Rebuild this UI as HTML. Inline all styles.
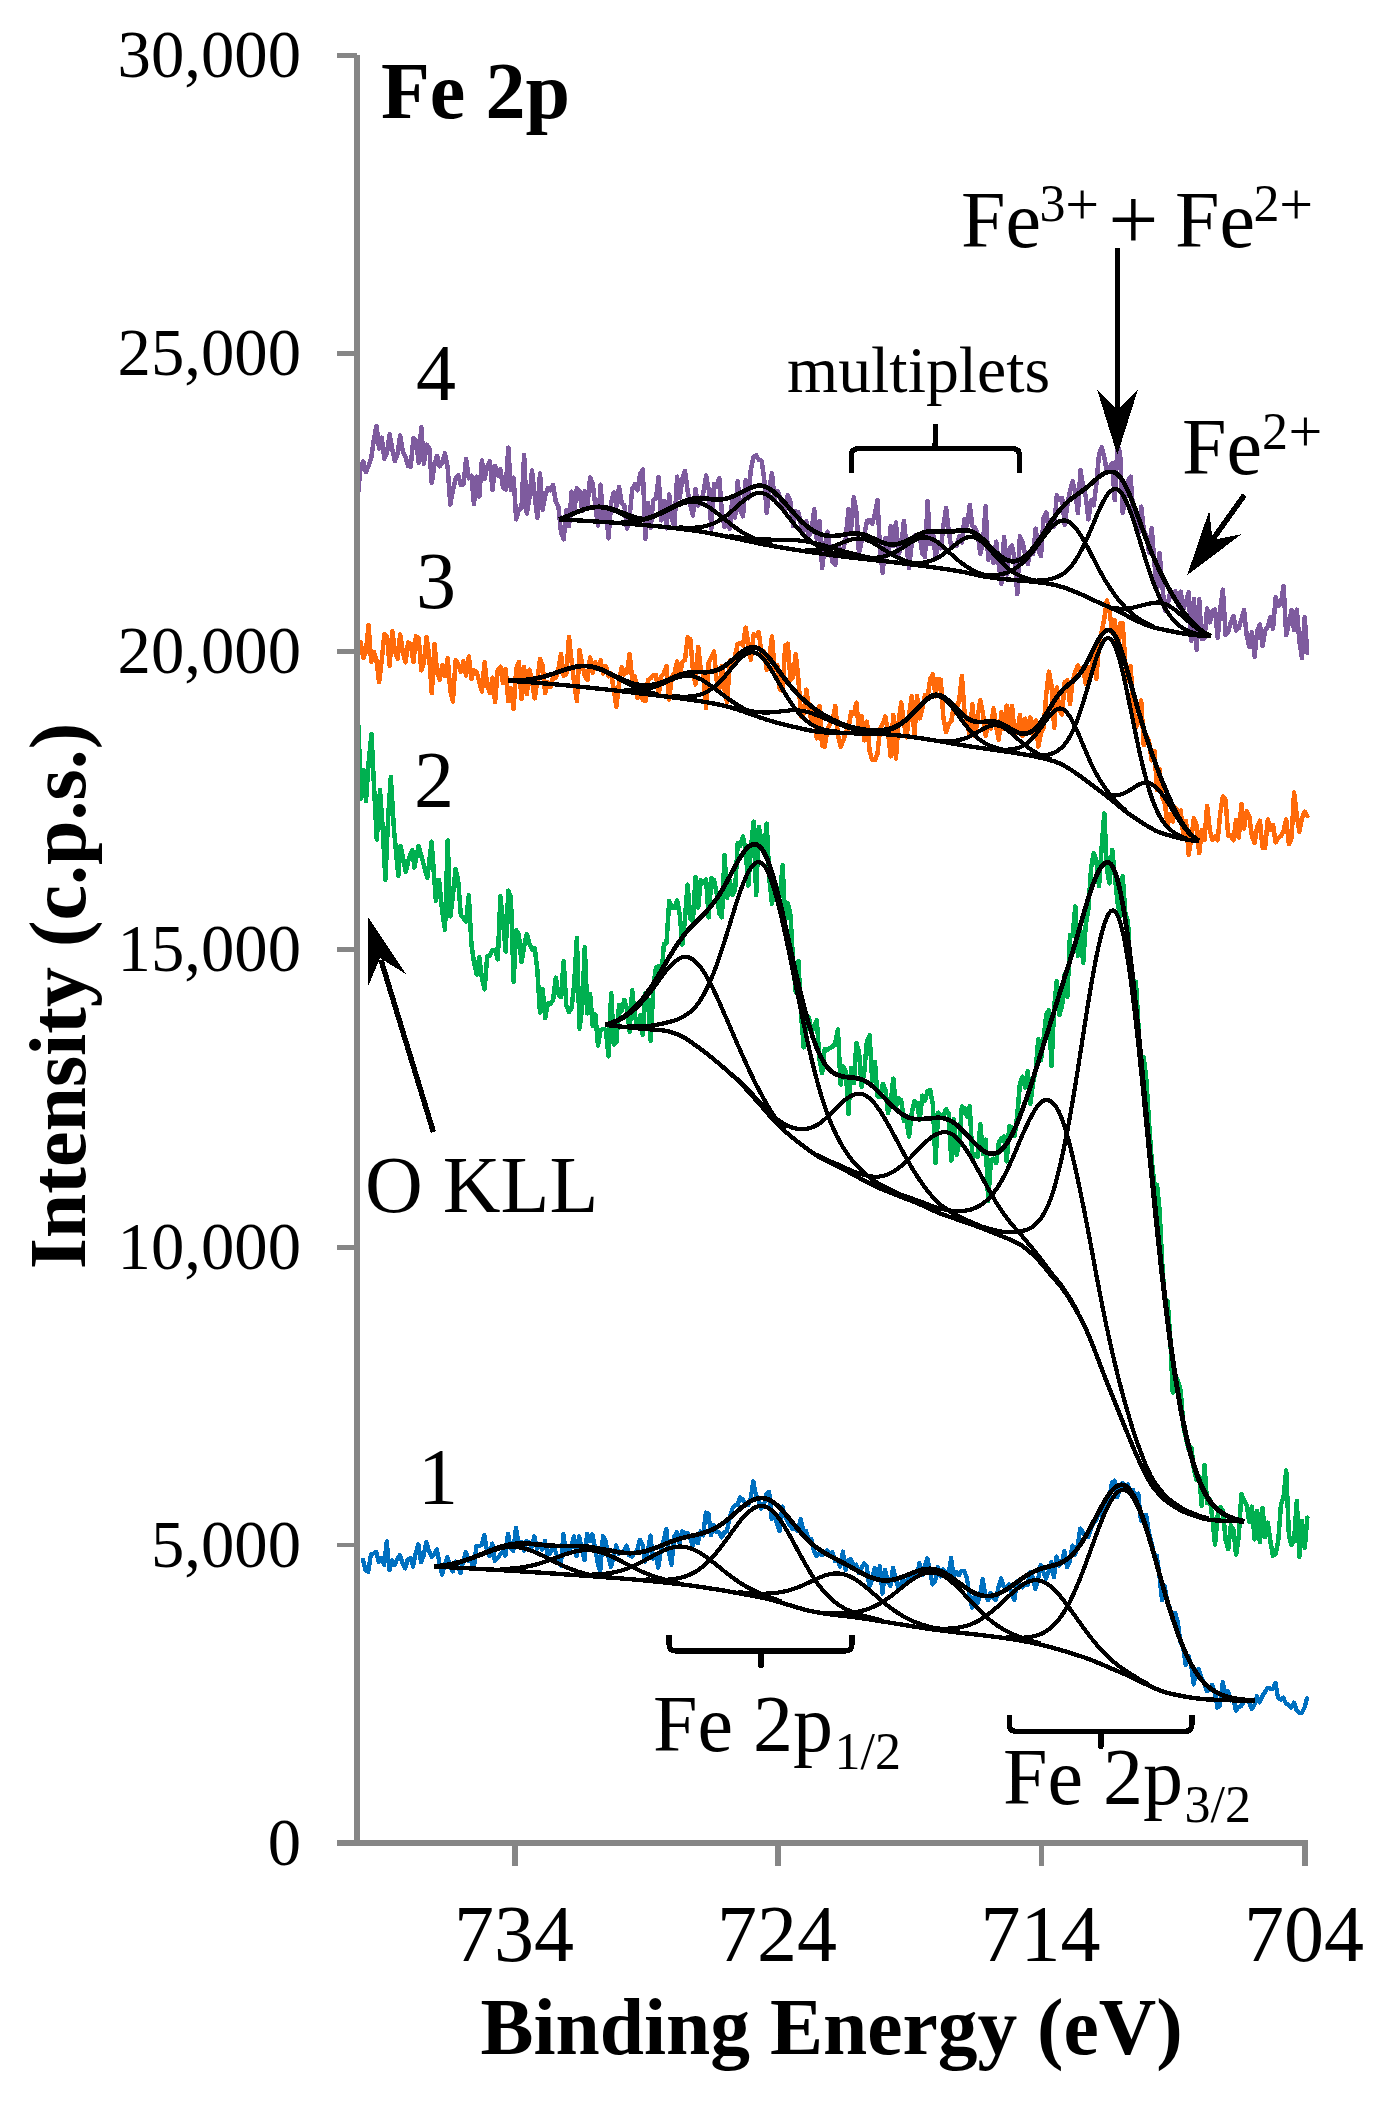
<!DOCTYPE html>
<html><head><meta charset="utf-8"><title>Fe 2p XPS</title>
<style>
html,body{margin:0;padding:0;background:#fff}
svg{display:block}
text{font-family:"Liberation Serif",serif;fill:#000}
</style></head>
<body>
<svg width="1397" height="2113" viewBox="0 0 1397 2113">
<rect width="1397" height="2113" fill="#fff"/>
<g id="data" shape-rendering="crispEdges">
<path d="M363.0,1560.0 L365.6,1570.5 L368.3,1571.7 L370.9,1554.5 L373.5,1553.5 L376.2,1551.8 L378.8,1562.2 L381.5,1558.3 L384.1,1565.1 L386.7,1541.4 L389.4,1570.2 L392.0,1560.4 L394.6,1565.1 L397.3,1558.7 L399.9,1555.0 L402.6,1563.0 L405.2,1568.4 L407.8,1559.2 L410.5,1558.1 L413.1,1566.6 L415.7,1553.3 L418.4,1544.4 L421.0,1562.2 L423.7,1555.7 L426.3,1541.9 L428.9,1550.8 L431.6,1556.6 L434.2,1554.0 L436.8,1549.5 L439.5,1563.6 L442.1,1574.5 L444.7,1564.7 L447.4,1557.2 L450.0,1566.8 L452.7,1571.5 L455.3,1561.6 L457.9,1567.3 L460.6,1573.0 L463.2,1560.9 L465.8,1551.9 L468.5,1561.1 L471.1,1561.3 L473.8,1568.4 L476.4,1545.8 L479.0,1546.4 L481.7,1544.8 L484.3,1534.7 L486.9,1550.0 L489.6,1556.2 L492.2,1543.6 L494.9,1560.9 L497.5,1558.4 L500.1,1554.6 L502.8,1551.3 L505.4,1555.5 L508.0,1533.8 L510.7,1548.0 L513.3,1551.0 L515.9,1527.8 L518.6,1543.7 L521.2,1541.8 L523.9,1550.6 L526.5,1540.8 L529.1,1542.8 L531.8,1547.2 L534.4,1536.4 L537.0,1548.6 L539.7,1544.8 L542.3,1549.5 L545.0,1541.0 L547.6,1554.9 L550.2,1553.4 L552.9,1545.1 L555.5,1551.6 L558.1,1559.2 L560.8,1565.5 L563.4,1534.2 L566.0,1551.6 L568.7,1552.1 L571.3,1546.0 L574.0,1536.2 L576.6,1556.3 L579.2,1536.4 L581.9,1549.4 L584.5,1560.0 L587.1,1533.8 L589.8,1541.3 L592.4,1534.4 L595.1,1547.9 L597.7,1563.3 L600.3,1571.1 L603.0,1536.0 L605.6,1541.1 L608.2,1556.0 L610.9,1567.1 L613.5,1558.2 L616.2,1545.4 L618.8,1553.7 L621.4,1552.9 L624.1,1550.9 L626.7,1545.7 L629.3,1555.5 L632.0,1556.8 L634.6,1552.7 L637.2,1550.5 L639.9,1539.7 L642.5,1544.9 L645.2,1561.8 L647.8,1550.8 L650.4,1535.6 L653.1,1558.8 L655.7,1555.2 L658.3,1567.7 L661.0,1550.1 L663.6,1540.4 L666.3,1529.0 L668.9,1552.5 L671.5,1564.8 L674.2,1536.8 L676.8,1532.1 L679.4,1543.4 L682.1,1531.3 L684.7,1533.4 L687.4,1533.0 L690.0,1537.4 L692.6,1546.3 L695.3,1537.2 L697.9,1543.2 L700.5,1531.4 L703.2,1535.4 L705.8,1512.6 L708.4,1513.7 L711.1,1535.0 L713.7,1524.7 L716.4,1531.8 L719.0,1532.0 L721.6,1537.5 L724.3,1532.2 L726.9,1531.2 L729.5,1518.7 L732.2,1509.0 L734.8,1505.3 L737.5,1505.3 L740.1,1497.4 L742.7,1499.6 L745.4,1502.9 L748.0,1505.1 L750.6,1498.5 L753.3,1481.3 L755.9,1494.8 L758.6,1500.3 L761.2,1508.6 L763.8,1505.5 L766.5,1493.8 L769.1,1491.9 L771.7,1518.8 L774.4,1513.8 L777.0,1523.8 L779.6,1531.0 L782.3,1506.6 L784.9,1515.6 L787.6,1521.5 L790.2,1525.8 L792.8,1529.0 L795.5,1529.0 L798.1,1531.3 L800.7,1518.7 L803.4,1531.1 L806.0,1530.9 L808.7,1540.6 L811.3,1539.1 L813.9,1550.4 L816.6,1556.2 L819.2,1553.7 L821.8,1554.7 L824.5,1554.2 L827.1,1550.4 L829.7,1553.5 L832.4,1552.4 L835.0,1561.3 L837.7,1560.8 L840.3,1566.7 L842.9,1551.6 L845.6,1570.0 L848.2,1560.2 L850.8,1559.0 L853.5,1565.5 L856.1,1564.6 L858.8,1573.2 L861.4,1568.2 L864.0,1563.6 L866.7,1566.1 L869.3,1587.2 L871.9,1580.5 L874.6,1568.2 L877.2,1577.5 L879.9,1566.0 L882.5,1593.7 L885.1,1569.8 L887.8,1582.1 L890.4,1585.8 L893.0,1567.6 L895.7,1579.3 L898.3,1587.8 L900.9,1583.3 L903.6,1579.6 L906.2,1584.3 L908.9,1577.4 L911.5,1576.5 L914.1,1571.7 L916.8,1576.7 L919.4,1563.2 L922.0,1575.1 L924.7,1566.1 L927.3,1558.5 L930.0,1570.2 L932.6,1584.5 L935.2,1580.7 L937.9,1567.2 L940.5,1576.4 L943.1,1569.5 L945.8,1571.9 L948.4,1575.9 L951.1,1558.0 L953.7,1576.9 L956.3,1572.2 L959.0,1575.0 L961.6,1570.8 L964.2,1571.1 L966.9,1577.9 L969.5,1595.8 L972.1,1607.5 L974.8,1595.6 L977.4,1603.6 L980.1,1594.6 L982.7,1578.9 L985.3,1594.2 L988.0,1600.2 L990.6,1593.0 L993.2,1597.3 L995.9,1600.0 L998.5,1587.3 L1001.2,1578.5 L1003.8,1586.8 L1006.4,1587.3 L1009.1,1584.4 L1011.7,1593.7 L1014.3,1600.2 L1017.0,1581.4 L1019.6,1585.5 L1022.3,1587.4 L1024.9,1584.1 L1027.5,1584.9 L1030.2,1571.8 L1032.8,1577.6 L1035.4,1588.9 L1038.1,1579.7 L1040.7,1564.9 L1043.3,1572.1 L1046.0,1578.8 L1048.6,1571.7 L1051.3,1561.9 L1053.9,1577.2 L1056.5,1556.6 L1059.2,1565.7 L1061.8,1563.0 L1064.4,1551.0 L1067.1,1567.3 L1069.7,1561.8 L1072.4,1545.5 L1075.0,1554.8 L1077.6,1545.8 L1080.3,1528.5 L1082.9,1532.1 L1085.5,1537.4 L1088.2,1537.2 L1090.8,1529.1 L1093.4,1522.5 L1096.1,1520.7 L1098.7,1510.8 L1101.4,1516.0 L1104.0,1505.2 L1106.6,1500.5 L1109.3,1498.8 L1111.9,1483.0 L1114.5,1480.7 L1117.2,1497.3 L1119.8,1490.0 L1122.5,1483.2 L1125.1,1488.1 L1127.7,1484.4 L1130.4,1492.2 L1133.0,1489.9 L1135.6,1500.9 L1138.3,1493.6 L1140.9,1520.6 L1143.6,1517.8 L1146.2,1514.7 L1148.8,1532.4 L1151.5,1542.3 L1154.1,1555.4 L1156.7,1555.5 L1159.4,1575.0 L1162.0,1600.4 L1164.6,1585.6 L1167.3,1601.9 L1169.9,1608.0 L1172.6,1619.0 L1175.2,1612.7 L1177.8,1622.4 L1180.5,1642.2 L1183.1,1647.3 L1185.7,1664.8 L1188.4,1655.9 L1191.0,1664.1 L1193.7,1684.4 L1196.3,1670.3 L1198.9,1669.2 L1201.6,1678.5 L1204.2,1682.5 L1206.8,1691.2 L1209.5,1689.7 L1212.1,1684.7 L1214.8,1691.8 L1217.4,1707.7 L1220.0,1705.3 L1222.7,1682.3 L1225.3,1692.5 L1227.9,1691.1 L1230.6,1700.5 L1233.2,1697.8 L1235.8,1710.7 L1238.5,1707.3 L1241.1,1706.1 L1243.8,1702.0 L1246.4,1700.0 L1249.0,1702.3 L1251.7,1708.7 L1254.3,1705.3 L1256.9,1696.1 L1259.6,1702.5 L1262.2,1696.2 L1264.9,1692.3 L1267.5,1687.7 L1270.1,1688.5 L1272.8,1689.1 L1275.4,1682.9 L1278.0,1697.7 L1280.7,1699.7 L1283.3,1697.6 L1286.0,1703.6 L1288.6,1704.9 L1291.2,1707.6 L1293.9,1702.6 L1296.5,1709.7 L1299.1,1713.0 L1301.8,1712.9 L1304.4,1707.8 L1307.0,1698.6" fill="none" stroke="#0070c0" stroke-width="4.3" stroke-linejoin="round" stroke-linecap="round"/>
<path d="M358.6,725.8 L360.7,798.8 L363.5,770.0 L366.0,801.0 L368.8,760.0 L371.5,734.0 L374.2,790.0 L376.8,839.6 L380.0,790.0 L382.8,830.0 L385.4,880.0 L388.0,820.0 L390.8,777.0 L394.0,830.0 L398.3,876.0 L400.5,846.0 L405.8,871.8 L409.0,858.0 L412.3,850.0 L414.4,867.5 L418.7,846.0 L423.0,862.0 L427.3,878.0 L431.6,841.7 L435.9,900.8 L439.0,880.0 L442.4,912.7 L445.0,929.8 L447.7,840.4 L450.3,916.3 L452.9,896.2 L455.6,868.8 L458.2,881.0 L460.8,914.7 L463.5,918.2 L466.1,921.6 L468.8,895.3 L471.4,944.1 L474.0,962.3 L476.7,974.5 L479.3,957.0 L481.9,978.0 L484.6,989.3 L487.2,956.2 L489.9,955.6 L492.5,950.3 L495.1,949.7 L497.8,959.4 L500.4,896.3 L503.0,921.6 L505.7,951.6 L508.3,890.6 L510.9,897.4 L513.6,981.7 L516.2,930.2 L518.9,935.0 L521.5,962.1 L524.1,946.2 L526.8,934.1 L529.4,943.4 L532.0,949.5 L534.7,948.0 L537.3,969.3 L540.0,1012.5 L542.6,989.0 L545.2,1018.1 L547.9,1003.4 L550.5,1003.8 L553.1,999.9 L555.8,977.6 L558.4,994.3 L561.0,996.9 L563.7,961.2 L566.3,1005.2 L569.0,1012.0 L571.6,1007.7 L574.2,984.1 L576.9,938.1 L579.5,1028.7 L582.1,1008.5 L584.8,947.1 L587.4,1013.4 L590.1,994.0 L592.7,1026.2 L595.3,1014.4 L598.0,1045.5 L600.6,1030.1 L603.2,1029.1 L605.9,1029.8 L608.5,1056.5 L611.2,993.3 L613.8,1044.6 L616.4,1042.3 L619.1,1004.9 L621.7,1011.2 L624.3,999.8 L627.0,1008.5 L629.6,1031.7 L632.2,990.3 L634.9,1016.8 L637.5,1025.8 L640.2,1015.2 L642.8,1035.0 L645.4,992.8 L648.1,1001.2 L650.7,1041.2 L653.3,987.0 L656.0,967.4 L658.6,966.0 L661.3,977.7 L663.9,944.1 L666.5,943.4 L669.2,900.8 L671.8,907.6 L674.4,907.7 L677.1,900.2 L679.7,914.5 L682.4,944.6 L685.0,918.3 L687.6,884.7 L690.3,918.6 L692.9,921.7 L695.5,877.0 L698.2,907.5 L700.8,880.2 L703.4,883.0 L706.1,879.6 L708.7,917.4 L711.4,878.4 L714.0,880.1 L716.6,892.3 L719.3,913.4 L721.9,917.3 L724.5,855.1 L727.2,897.7 L729.8,880.3 L732.5,894.7 L735.1,890.4 L737.7,842.8 L740.4,845.6 L743.0,836.4 L745.6,850.0 L748.3,885.5 L750.9,848.5 L753.6,821.5 L756.2,895.0 L758.8,826.8 L761.5,840.7 L764.1,850.2 L766.7,823.5 L769.4,878.9 L772.0,903.8 L774.6,883.8 L777.3,891.2 L779.9,896.4 L782.6,865.3 L785.2,919.7 L787.8,903.3 L790.5,915.1 L793.1,961.5 L795.7,991.9 L798.4,960.9 L801.0,1012.6 L803.7,1047.5 L806.3,1021.5 L808.9,1017.5 L811.6,1031.7 L814.2,1026.4 L816.8,1020.0 L819.5,1059.6 L822.1,1073.2 L824.7,1049.2 L827.4,1049.6 L830.0,1047.7 L832.7,1047.1 L835.3,1042.1 L837.9,1029.4 L840.6,1084.6 L843.2,1066.4 L845.8,1071.1 L848.5,1113.8 L851.1,1068.1 L853.8,1083.2 L856.4,1043.0 L859.0,1052.0 L861.7,1087.1 L864.3,1071.6 L866.9,1041.2 L869.6,1035.4 L872.2,1080.9 L874.9,1061.8 L877.5,1096.5 L880.1,1096.8 L882.8,1083.8 L885.4,1089.9 L888.0,1112.9 L890.7,1102.4 L893.3,1078.7 L895.9,1106.7 L898.6,1098.5 L901.2,1100.3 L903.9,1121.2 L906.5,1120.5 L909.1,1136.6 L911.8,1112.3 L914.4,1101.2 L917.0,1103.0 L919.7,1120.2 L922.3,1095.7 L925.0,1100.7 L927.6,1091.1 L930.2,1090.3 L932.9,1104.3 L935.5,1163.0 L938.1,1112.6 L940.8,1116.1 L943.4,1115.5 L946.1,1109.1 L948.7,1113.7 L951.3,1160.5 L954.0,1119.3 L956.6,1154.7 L959.2,1143.0 L961.9,1106.6 L964.5,1108.2 L967.1,1116.7 L969.8,1106.3 L972.4,1158.4 L975.1,1154.3 L977.7,1156.7 L980.3,1124.1 L983.0,1154.1 L985.6,1139.5 L988.2,1200.9 L990.9,1160.0 L993.5,1158.8 L996.2,1163.2 L998.8,1142.5 L1001.4,1138.7 L1004.1,1136.3 L1006.7,1161.3 L1009.3,1126.4 L1012.0,1127.6 L1014.6,1135.7 L1017.3,1115.0 L1019.9,1083.8 L1022.5,1076.7 L1025.2,1087.7 L1027.8,1071.1 L1030.4,1103.8 L1033.1,1082.7 L1035.7,1069.4 L1038.3,1039.2 L1041.0,1060.2 L1043.6,1038.8 L1046.3,1013.9 L1048.9,1010.0 L1051.5,1065.9 L1054.2,1007.0 L1056.8,981.1 L1059.4,1014.9 L1062.1,1005.7 L1064.7,973.9 L1067.4,996.8 L1070.0,934.8 L1072.6,935.6 L1075.3,906.4 L1077.9,955.8 L1080.5,930.8 L1083.2,962.8 L1085.8,924.6 L1088.4,909.0 L1091.1,867.9 L1093.7,853.3 L1096.4,860.9 L1099.0,886.3 L1101.6,847.9 L1104.3,813.5 L1106.9,869.7 L1109.5,883.4 L1112.2,849.9 L1114.8,875.5 L1117.5,902.2 L1120.1,916.5 L1122.7,875.8 L1125.4,913.8 L1128.0,921.9 L1130.6,973.6 L1133.3,985.8 L1135.9,981.8 L1138.6,1028.4 L1141.2,1069.4 L1143.8,1057.5 L1146.5,1081.6 L1149.1,1123.5 L1151.7,1160.7 L1154.4,1183.8 L1157.0,1184.8 L1159.6,1210.5 L1162.3,1264.8 L1164.9,1302.2 L1167.6,1300.8 L1170.2,1336.8 L1172.8,1392.5 L1175.5,1376.7 L1178.1,1381.3 L1180.7,1390.7 L1183.4,1426.0 L1186.0,1438.2 L1188.7,1449.1 L1191.3,1447.5 L1193.9,1469.2 L1196.6,1480.2 L1199.2,1476.9 L1201.8,1505.8 L1204.5,1464.8 L1207.1,1502.8 L1209.8,1499.2 L1212.4,1518.0 L1215.0,1544.4 L1217.7,1515.8 L1220.3,1506.9 L1222.9,1511.1 L1225.6,1539.8 L1228.2,1549.2 L1230.8,1525.2 L1233.5,1530.4 L1236.1,1554.6 L1238.8,1536.0 L1241.4,1494.0 L1244.0,1500.3 L1246.7,1505.0 L1249.3,1522.0 L1251.9,1506.7 L1254.6,1539.3 L1257.2,1511.0 L1259.9,1542.3 L1262.5,1507.8 L1265.1,1537.2 L1267.8,1522.6 L1270.4,1541.5 L1273.0,1555.8 L1275.7,1553.8 L1278.3,1540.0 L1281.0,1504.4 L1283.6,1497.1 L1286.2,1470.3 L1288.9,1535.1 L1291.5,1545.1 L1294.1,1540.7 L1296.8,1501.0 L1299.4,1556.7 L1302.0,1521.1 L1304.7,1548.1 L1307.3,1517.7" fill="none" stroke="#00b050" stroke-width="4.5" stroke-linejoin="round" stroke-linecap="round"/>
<path d="M358.0,654.9 L360.6,642.1 L363.3,657.9 L365.9,652.6 L368.5,624.8 L371.2,661.7 L373.8,651.8 L376.5,660.2 L379.1,682.3 L381.7,660.7 L384.4,634.3 L387.0,636.7 L389.6,665.6 L392.3,630.9 L394.9,651.4 L397.6,658.7 L400.2,634.5 L402.8,651.5 L405.5,662.3 L408.1,642.5 L410.7,643.8 L413.4,662.1 L416.0,636.2 L418.7,638.3 L421.3,670.3 L423.9,662.9 L426.6,636.9 L429.2,656.5 L431.8,693.3 L434.5,644.2 L437.1,672.4 L439.7,679.7 L442.4,665.2 L445.0,675.9 L447.7,658.3 L450.3,691.1 L452.9,701.4 L455.6,660.3 L458.2,663.8 L460.8,672.0 L463.5,661.4 L466.1,675.5 L468.8,656.5 L471.4,679.0 L474.0,670.3 L476.7,672.2 L479.3,681.9 L481.9,691.4 L484.6,662.3 L487.2,685.7 L489.9,693.0 L492.5,677.6 L495.1,701.8 L497.8,669.9 L500.4,666.8 L503.0,682.9 L505.7,668.9 L508.3,701.2 L510.9,688.2 L513.6,709.1 L516.2,668.7 L518.9,661.8 L521.5,699.0 L524.1,667.2 L526.8,694.1 L529.4,669.7 L532.0,681.0 L534.7,698.4 L537.3,680.8 L540.0,658.8 L542.6,665.5 L545.2,693.2 L547.9,682.1 L550.5,686.8 L553.1,677.4 L555.8,677.9 L558.4,669.9 L561.0,654.1 L563.7,675.9 L566.3,674.0 L569.0,637.0 L571.6,661.8 L574.2,683.0 L576.9,701.0 L579.5,650.2 L582.1,663.7 L584.8,675.4 L587.4,680.1 L590.1,657.4 L592.7,673.0 L595.3,662.3 L598.0,666.3 L600.6,660.5 L603.2,673.7 L605.9,666.1 L608.5,676.4 L611.2,673.6 L613.8,689.9 L616.4,706.8 L619.1,681.9 L621.7,667.1 L624.3,674.4 L627.0,672.1 L629.6,654.0 L632.2,678.7 L634.9,676.3 L637.5,697.9 L640.2,685.9 L642.8,700.1 L645.4,700.9 L648.1,679.8 L650.7,678.3 L653.3,675.2 L656.0,675.2 L658.6,695.4 L661.3,676.7 L663.9,673.2 L666.5,666.2 L669.2,699.6 L671.8,676.7 L674.4,673.4 L677.1,661.4 L679.7,675.9 L682.4,661.9 L685.0,659.9 L687.6,637.4 L690.3,639.1 L692.9,669.8 L695.5,684.6 L698.2,647.0 L700.8,669.2 L703.4,675.3 L706.1,708.3 L708.7,662.3 L711.4,657.3 L714.0,651.6 L716.6,679.9 L719.3,688.2 L721.9,666.1 L724.5,689.4 L727.2,702.5 L729.8,660.6 L732.5,666.9 L735.1,655.7 L737.7,644.0 L740.4,643.2 L743.0,645.5 L745.6,627.5 L748.3,642.5 L750.9,659.8 L753.6,634.2 L756.2,636.0 L758.8,632.1 L761.5,653.5 L764.1,651.8 L766.7,669.8 L769.4,655.8 L772.0,636.6 L774.6,669.6 L777.3,665.4 L779.9,689.8 L782.6,690.8 L785.2,645.8 L787.8,643.8 L790.5,680.3 L793.1,676.8 L795.7,654.0 L798.4,679.2 L801.0,716.5 L803.7,714.0 L806.3,689.6 L808.9,706.2 L811.6,723.7 L814.2,708.5 L816.8,738.4 L819.5,706.0 L822.1,745.7 L824.7,746.7 L827.4,729.9 L830.0,723.5 L832.7,720.8 L835.3,705.8 L837.9,735.1 L840.6,746.8 L843.2,740.8 L845.8,732.2 L848.5,728.6 L851.1,712.1 L853.8,714.1 L856.4,702.7 L859.0,732.1 L861.7,716.1 L864.3,740.4 L866.9,721.7 L869.6,751.2 L872.2,760.1 L874.9,760.1 L877.5,753.6 L880.1,728.8 L882.8,723.9 L885.4,716.6 L888.0,732.1 L890.7,756.5 L893.3,714.8 L895.9,758.6 L898.6,722.3 L901.2,702.4 L903.9,723.1 L906.5,737.5 L909.1,714.1 L911.8,696.4 L914.4,736.6 L917.0,696.0 L919.7,718.5 L922.3,708.5 L925.0,695.0 L927.6,698.0 L930.2,679.1 L932.9,674.1 L935.5,696.4 L938.1,678.9 L940.8,679.8 L943.4,717.9 L946.1,732.1 L948.7,724.2 L951.3,721.2 L954.0,704.7 L956.6,709.5 L959.2,699.7 L961.9,676.1 L964.5,712.6 L967.1,722.3 L969.8,736.3 L972.4,704.3 L975.1,736.4 L977.7,716.6 L980.3,700.2 L983.0,713.8 L985.6,735.8 L988.2,724.0 L990.9,728.4 L993.5,708.4 L996.2,726.8 L998.8,739.8 L1001.4,712.1 L1004.1,728.8 L1006.7,705.7 L1009.3,727.3 L1012.0,705.7 L1014.6,732.7 L1017.3,733.2 L1019.9,714.8 L1022.5,735.9 L1025.2,718.7 L1027.8,731.4 L1030.4,717.4 L1033.1,736.1 L1035.7,720.5 L1038.3,746.5 L1041.0,733.4 L1043.6,728.0 L1046.3,693.8 L1048.9,671.6 L1051.5,685.9 L1054.2,727.9 L1056.8,687.4 L1059.4,710.5 L1062.1,714.7 L1064.7,682.3 L1067.4,680.4 L1070.0,704.0 L1072.6,681.1 L1075.3,671.4 L1077.9,665.5 L1080.5,672.1 L1083.2,667.2 L1085.8,684.0 L1088.4,667.0 L1091.1,674.0 L1093.7,650.6 L1096.4,678.9 L1099.0,643.7 L1101.6,632.3 L1104.3,618.8 L1106.9,600.6 L1109.5,611.0 L1112.2,632.6 L1114.8,620.1 L1117.5,651.1 L1120.1,623.5 L1122.7,623.2 L1125.4,663.8 L1128.0,680.4 L1130.6,665.8 L1133.3,706.5 L1135.9,727.7 L1138.6,721.4 L1141.2,700.6 L1143.8,745.2 L1146.5,736.5 L1149.1,741.6 L1151.7,760.4 L1154.4,750.8 L1157.0,790.1 L1159.6,769.4 L1162.3,796.9 L1164.9,803.7 L1167.6,825.2 L1170.2,813.8 L1172.8,821.4 L1175.5,807.6 L1178.1,811.4 L1180.7,810.5 L1183.4,835.6 L1186.0,820.9 L1188.7,854.8 L1191.3,838.2 L1193.9,818.3 L1196.6,825.5 L1199.2,853.2 L1201.8,830.0 L1204.5,839.9 L1207.1,805.9 L1209.8,830.1 L1212.4,840.2 L1215.0,836.4 L1217.7,840.2 L1220.3,812.5 L1222.9,796.4 L1225.6,799.9 L1228.2,835.7 L1230.8,835.2 L1233.5,840.4 L1236.1,819.7 L1238.8,837.6 L1241.4,804.0 L1244.0,828.4 L1246.7,811.0 L1249.3,816.5 L1251.9,835.9 L1254.6,842.8 L1257.2,826.9 L1259.9,820.7 L1262.5,847.6 L1265.1,847.9 L1267.8,819.4 L1270.4,829.9 L1273.0,824.9 L1275.7,842.4 L1278.3,837.9 L1281.0,836.1 L1283.6,830.7 L1286.2,819.6 L1288.9,844.2 L1291.5,838.2 L1294.1,792.4 L1296.8,815.4 L1299.4,831.8 L1302.0,817.7 L1304.7,811.8 L1307.3,816.1" fill="none" stroke="#ff6a0a" stroke-width="4.5" stroke-linejoin="round" stroke-linecap="round"/>
<path d="M358.0,494.6 L360.6,466.8 L363.3,461.5 L365.9,472.2 L368.5,465.9 L371.2,458.4 L373.8,440.2 L376.5,425.8 L379.1,448.5 L381.7,437.7 L384.4,458.7 L387.0,452.7 L389.6,434.2 L392.3,449.4 L394.9,461.0 L397.6,453.7 L400.2,435.6 L402.8,451.3 L405.5,457.0 L408.1,466.1 L410.7,466.6 L413.4,438.4 L416.0,441.1 L418.7,462.7 L421.3,427.0 L423.9,463.8 L426.6,444.7 L429.2,447.8 L431.8,482.9 L434.5,463.9 L437.1,455.8 L439.7,466.3 L442.4,462.8 L445.0,453.3 L447.7,467.8 L450.3,504.5 L452.9,490.4 L455.6,478.9 L458.2,475.0 L460.8,484.7 L463.5,484.3 L466.1,458.8 L468.8,478.4 L471.4,475.8 L474.0,504.0 L476.7,476.7 L479.3,496.6 L481.9,460.4 L484.6,478.7 L487.2,466.6 L489.9,461.1 L492.5,490.1 L495.1,465.7 L497.8,475.4 L500.4,469.2 L503.0,487.1 L505.7,489.5 L508.3,447.7 L510.9,490.1 L513.6,477.7 L516.2,519.4 L518.9,509.5 L521.5,508.0 L524.1,454.8 L526.8,513.6 L529.4,498.4 L532.0,470.4 L534.7,495.1 L537.3,518.1 L540.0,473.6 L542.6,509.8 L545.2,495.6 L547.9,487.9 L550.5,490.4 L553.1,485.0 L555.8,501.8 L558.4,506.7 L561.0,532.6 L563.7,539.4 L566.3,510.1 L569.0,526.3 L571.6,491.6 L574.2,512.8 L576.9,488.3 L579.5,490.7 L582.1,510.8 L584.8,491.3 L587.4,506.7 L590.1,477.5 L592.7,483.3 L595.3,505.9 L598.0,525.7 L600.6,484.7 L603.2,521.8 L605.9,509.0 L608.5,538.3 L611.2,503.0 L613.8,492.5 L616.4,506.5 L619.1,486.9 L621.7,503.4 L624.3,505.1 L627.0,528.4 L629.6,517.5 L632.2,489.1 L634.9,484.1 L637.5,490.4 L640.2,473.9 L642.8,469.5 L645.4,539.0 L648.1,503.1 L650.7,527.9 L653.3,500.2 L656.0,498.3 L658.6,476.8 L661.3,520.3 L663.9,501.0 L666.5,528.4 L669.2,494.4 L671.8,518.3 L674.4,526.4 L677.1,476.6 L679.7,498.2 L682.4,478.7 L685.0,470.9 L687.6,490.6 L690.3,505.2 L692.9,515.6 L695.5,489.1 L698.2,505.6 L700.8,502.7 L703.4,492.3 L706.1,475.6 L708.7,489.3 L711.4,528.9 L714.0,484.1 L716.6,487.1 L719.3,477.8 L721.9,512.9 L724.5,526.9 L727.2,520.2 L729.8,528.8 L732.5,496.2 L735.1,517.7 L737.7,481.0 L740.4,511.1 L743.0,516.3 L745.6,480.1 L748.3,498.3 L750.9,468.9 L753.6,456.6 L756.2,455.3 L758.8,459.9 L761.5,460.5 L764.1,478.1 L766.7,512.9 L769.4,487.3 L772.0,473.3 L774.6,498.9 L777.3,490.9 L779.9,496.4 L782.6,505.5 L785.2,510.3 L787.8,495.1 L790.5,502.0 L793.1,526.0 L795.7,511.3 L798.4,512.4 L801.0,524.7 L803.7,530.8 L806.3,521.3 L808.9,535.6 L811.6,530.8 L814.2,509.2 L816.8,538.8 L819.5,521.0 L822.1,568.2 L824.7,546.7 L827.4,531.7 L830.0,548.8 L832.7,562.5 L835.3,565.1 L837.9,545.1 L840.6,553.6 L843.2,549.5 L845.8,537.8 L848.5,509.2 L851.1,529.1 L853.8,497.3 L856.4,511.9 L859.0,553.2 L861.7,541.2 L864.3,534.5 L866.9,521.1 L869.6,519.9 L872.2,523.9 L874.9,514.0 L877.5,500.0 L880.1,551.5 L882.8,572.8 L885.4,537.9 L888.0,554.5 L890.7,526.4 L893.3,546.2 L895.9,522.4 L898.6,554.1 L901.2,546.5 L903.9,521.0 L906.5,545.6 L909.1,568.0 L911.8,543.0 L914.4,535.7 L917.0,535.1 L919.7,535.9 L922.3,553.6 L925.0,556.9 L927.6,500.9 L930.2,544.2 L932.9,531.3 L935.5,557.5 L938.1,543.7 L940.8,548.3 L943.4,525.8 L946.1,507.8 L948.7,531.0 L951.3,547.6 L954.0,545.9 L956.6,545.6 L959.2,536.4 L961.9,542.5 L964.5,518.8 L967.1,525.3 L969.8,504.9 L972.4,525.9 L975.1,527.7 L977.7,534.5 L980.3,553.8 L983.0,543.2 L985.6,506.3 L988.2,559.8 L990.9,553.7 L993.5,562.7 L996.2,541.7 L998.8,565.5 L1001.4,584.0 L1004.1,536.7 L1006.7,574.6 L1009.3,549.1 L1012.0,545.5 L1014.6,558.5 L1017.3,594.2 L1019.9,536.3 L1022.5,541.8 L1025.2,554.5 L1027.8,564.1 L1030.4,550.9 L1033.1,554.2 L1035.7,528.7 L1038.3,549.9 L1041.0,556.2 L1043.6,518.2 L1046.3,512.6 L1048.9,528.8 L1051.5,527.4 L1054.2,526.6 L1056.8,495.3 L1059.4,500.0 L1062.1,497.9 L1064.7,524.8 L1067.4,504.5 L1070.0,491.1 L1072.6,481.3 L1075.3,492.8 L1077.9,513.1 L1080.5,470.3 L1083.2,487.0 L1085.8,496.5 L1088.4,519.5 L1091.1,500.6 L1093.7,505.2 L1096.4,483.7 L1099.0,454.2 L1101.6,447.4 L1104.3,457.1 L1106.9,472.0 L1109.5,467.4 L1112.2,463.2 L1114.8,500.2 L1117.5,444.6 L1120.1,453.2 L1122.7,512.9 L1125.4,497.0 L1128.0,480.9 L1130.6,476.7 L1133.3,513.2 L1135.9,524.4 L1138.6,533.1 L1141.2,506.7 L1143.8,530.5 L1146.5,536.2 L1149.1,552.7 L1151.7,528.0 L1154.4,563.5 L1157.0,591.3 L1159.6,552.9 L1162.3,585.6 L1164.9,610.5 L1167.6,605.2 L1170.2,592.6 L1172.8,597.2 L1175.5,591.5 L1178.1,605.7 L1180.7,591.7 L1183.4,609.2 L1186.0,601.6 L1188.7,592.3 L1191.3,641.0 L1193.9,598.7 L1196.6,649.6 L1199.2,599.3 L1201.8,639.2 L1204.5,638.4 L1207.1,608.6 L1209.8,622.3 L1212.4,611.3 L1215.0,609.5 L1217.7,637.9 L1220.3,609.1 L1222.9,589.6 L1225.6,635.1 L1228.2,631.8 L1230.8,622.5 L1233.5,616.1 L1236.1,630.5 L1238.8,628.1 L1241.4,619.2 L1244.0,610.1 L1246.7,635.5 L1249.3,646.8 L1251.9,632.2 L1254.6,656.7 L1257.2,630.8 L1259.9,624.4 L1262.5,645.9 L1265.1,630.6 L1267.8,626.6 L1270.4,616.9 L1273.0,628.8 L1275.7,597.1 L1278.3,606.1 L1281.0,603.8 L1283.6,585.8 L1286.2,635.2 L1288.9,622.8 L1291.5,610.3 L1294.1,630.0 L1296.8,609.6 L1299.4,641.2 L1302.0,658.3 L1304.7,617.1 L1307.3,653.0" fill="none" stroke="#7e5b9e" stroke-width="4.5" stroke-linejoin="round" stroke-linecap="round"/>
</g>
<g id="axis" shape-rendering="crispEdges">
<rect x="354.4" y="55" width="5.5" height="1791" fill="#868686"/>
<rect x="336.8" y="1840.1" width="971.5" height="5.8" fill="#868686"/>
<rect x="336.8" y="1542.6" width="20" height="4.8" fill="#868686"/>
<rect x="336.8" y="1244.7" width="20" height="4.8" fill="#868686"/>
<rect x="336.8" y="946.8" width="20" height="4.8" fill="#868686"/>
<rect x="336.8" y="648.8" width="20" height="4.8" fill="#868686"/>
<rect x="336.8" y="350.9" width="20" height="4.8" fill="#868686"/>
<rect x="336.8" y="52.9" width="20" height="4.8" fill="#868686"/>
<rect x="512.2" y="1843" width="5.6" height="22.8" fill="#868686"/>
<rect x="775.2" y="1843" width="5.6" height="22.8" fill="#868686"/>
<rect x="1038.7" y="1843" width="5.6" height="22.8" fill="#868686"/>
<rect x="1302.2" y="1843" width="5.6" height="22.8" fill="#868686"/>
</g>
<g id="fits" fill="none" stroke="#000" stroke-linejoin="round" stroke-linecap="butt" shape-rendering="crispEdges">
<path d="M434.0,1566.5 L436.0,1566.6 L438.0,1566.7 L440.0,1566.8 L442.0,1566.9 L444.0,1567.0 L446.0,1567.1 L448.0,1567.2 L450.0,1567.3 L452.0,1567.4 L454.0,1567.5 L456.0,1567.6 L458.0,1567.7 L460.0,1567.8 L462.0,1567.9 L464.0,1568.0 L466.0,1568.1 L468.0,1568.2 L470.0,1568.4 L472.0,1568.5 L474.0,1568.6 L476.0,1568.7 L478.0,1568.8 L480.0,1568.9 L482.0,1569.0 L484.0,1569.1 L486.0,1569.3 L488.0,1569.4 L490.0,1569.5 L492.0,1569.6 L494.0,1569.7 L496.0,1569.9 L498.0,1570.0 L500.0,1570.1 L502.0,1570.2 L504.0,1570.3 L506.0,1570.5 L508.0,1570.6 L510.0,1570.7 L512.0,1570.8 L514.0,1571.0 L516.0,1571.1 L518.0,1571.2 L520.0,1571.3 L522.0,1571.5 L524.0,1571.6 L526.0,1571.7 L528.0,1571.9 L530.0,1572.0 L532.0,1572.1 L534.0,1572.2 L536.0,1572.4 L538.0,1572.5 L540.0,1572.6 L542.0,1572.8 L544.0,1572.9 L546.0,1573.0 L548.0,1573.2 L550.0,1573.3 L552.0,1573.5 L554.0,1573.6 L556.0,1573.7 L558.0,1573.9 L560.0,1574.0 L562.0,1574.1 L564.0,1574.3 L566.0,1574.4 L568.0,1574.6 L570.0,1574.7 L572.0,1574.8 L574.0,1575.0 L576.0,1575.1 L578.0,1575.2 L580.0,1575.4 L582.0,1575.5 L584.0,1575.7 L586.0,1575.8 L588.0,1575.9 L590.0,1576.1 L592.0,1576.2 L594.0,1576.4 L596.0,1576.5 L598.0,1576.7 L600.0,1576.8 L602.0,1577.0 L604.0,1577.1 L606.0,1577.3 L608.0,1577.4 L610.0,1577.6 L612.0,1577.7 L614.0,1577.9 L616.0,1578.0 L618.0,1578.2 L620.0,1578.3 L622.0,1578.5 L624.0,1578.7 L626.0,1578.8 L628.0,1579.0 L630.0,1579.2 L632.0,1579.3 L634.0,1579.5 L636.0,1579.7 L638.0,1579.9 L640.0,1580.0 L642.0,1580.2 L644.0,1580.4 L646.0,1580.6 L648.0,1580.8 L650.0,1581.0 L652.0,1581.2 L654.0,1581.4 L656.0,1581.6 L658.0,1581.8 L660.0,1582.0 L662.0,1582.2 L664.0,1582.4 L666.0,1582.6 L668.0,1582.8 L670.0,1583.0 L672.0,1583.3 L674.0,1583.5 L676.0,1583.7 L678.0,1584.0 L680.0,1584.2 L682.0,1584.4 L684.0,1584.7 L686.0,1585.0 L688.0,1585.2 L690.0,1585.5 L692.0,1585.8 L694.0,1586.0 L696.0,1586.3 L698.0,1586.6 L700.0,1586.9 L702.0,1587.2 L704.0,1587.5 L706.0,1587.8 L708.0,1588.1 L710.0,1588.4 L712.0,1588.7 L714.0,1589.0 L716.0,1589.3 L718.0,1589.6 L720.0,1590.0 L722.0,1590.3 L724.0,1590.6 L726.0,1591.0 L728.0,1591.3 L730.0,1591.7 L732.0,1592.0 L734.0,1592.4 L736.0,1592.7 L738.0,1593.1 L740.0,1593.5 L742.0,1593.8 L744.0,1594.2 L746.0,1594.6 L748.0,1595.0 L750.0,1595.3 L752.0,1595.7 L754.0,1596.1 L756.0,1596.5 L758.0,1596.9 L760.0,1597.3 L762.0,1597.7 L764.0,1598.1 L766.0,1598.6 L768.0,1599.0 L770.0,1599.5 L772.0,1600.1 L774.0,1600.6 L776.0,1601.2 L778.0,1601.7 L780.0,1602.3 L782.0,1602.9 L784.0,1603.5 L786.0,1604.1 L788.0,1604.7 L790.0,1605.3 L792.0,1605.9 L794.0,1606.5 L796.0,1607.1 L798.0,1607.7 L800.0,1608.3 L802.0,1608.8 L804.0,1609.4 L806.0,1609.9 L808.0,1610.4 L810.0,1610.9 L812.0,1611.3 L814.0,1611.7 L816.0,1612.1 L818.0,1612.5 L820.0,1612.8 L822.0,1613.2 L824.0,1613.5 L826.0,1613.8 L828.0,1614.0 L830.0,1614.3 L832.0,1614.6 L834.0,1614.8 L836.0,1615.1 L838.0,1615.3 L840.0,1615.5 L842.0,1615.8 L844.0,1616.0 L846.0,1616.2 L848.0,1616.5 L850.0,1616.7 L852.0,1616.9 L854.0,1617.2 L856.0,1617.5 L858.0,1617.7 L860.0,1618.0 L862.0,1618.3 L864.0,1618.6 L866.0,1618.9 L868.0,1619.2 L870.0,1619.5 L872.0,1619.8 L874.0,1620.1 L876.0,1620.4 L878.0,1620.7 L880.0,1621.0 L882.0,1621.4 L884.0,1621.7 L886.0,1622.0 L888.0,1622.3 L890.0,1622.7 L892.0,1623.0 L894.0,1623.3 L896.0,1623.7 L898.0,1624.0 L900.0,1624.3 L902.0,1624.6 L904.0,1625.0 L906.0,1625.3 L908.0,1625.6 L910.0,1625.9 L912.0,1626.3 L914.0,1626.6 L916.0,1626.9 L918.0,1627.2 L920.0,1627.5 L922.0,1627.8 L924.0,1628.1 L926.0,1628.4 L928.0,1628.7 L930.0,1629.0 L932.0,1629.3 L934.0,1629.6 L936.0,1629.8 L938.0,1630.1 L940.0,1630.3 L942.0,1630.6 L944.0,1630.9 L946.0,1631.1 L948.0,1631.3 L950.0,1631.6 L952.0,1631.8 L954.0,1632.0 L956.0,1632.3 L958.0,1632.5 L960.0,1632.7 L962.0,1633.0 L964.0,1633.2 L966.0,1633.4 L968.0,1633.6 L970.0,1633.9 L972.0,1634.1 L974.0,1634.3 L976.0,1634.5 L978.0,1634.8 L980.0,1635.0 L982.0,1635.2 L984.0,1635.5 L986.0,1635.7 L988.0,1635.9 L990.0,1636.2 L992.0,1636.4 L994.0,1636.7 L996.0,1636.9 L998.0,1637.2 L1000.0,1637.5 L1002.0,1637.7 L1004.0,1638.0 L1006.0,1638.3 L1008.0,1638.6 L1010.0,1638.9 L1012.0,1639.2 L1014.0,1639.5 L1016.0,1639.8 L1018.0,1640.1 L1020.0,1640.5 L1022.0,1640.8 L1024.0,1641.2 L1026.0,1641.6 L1028.0,1641.9 L1030.0,1642.3 L1032.0,1642.8 L1034.0,1643.2 L1036.0,1643.6 L1038.0,1644.1 L1040.0,1644.6 L1042.0,1645.0 L1044.0,1645.5 L1046.0,1646.0 L1048.0,1646.5 L1050.0,1647.1 L1052.0,1647.6 L1054.0,1648.2 L1056.0,1648.7 L1058.0,1649.3 L1060.0,1649.8 L1062.0,1650.4 L1064.0,1651.0 L1066.0,1651.6 L1068.0,1652.2 L1070.0,1652.8 L1072.0,1653.5 L1074.0,1654.1 L1076.0,1654.7 L1078.0,1655.4 L1080.0,1656.0 L1082.0,1656.7 L1084.0,1657.3 L1086.0,1658.1 L1088.0,1658.8 L1090.0,1659.6 L1092.0,1660.3 L1094.0,1661.1 L1096.0,1661.9 L1098.0,1662.8 L1100.0,1663.6 L1102.0,1664.5 L1104.0,1665.3 L1106.0,1666.2 L1108.0,1667.0 L1110.0,1667.9 L1112.0,1668.8 L1114.0,1669.6 L1116.0,1670.5 L1118.0,1671.3 L1120.0,1672.2 L1122.0,1673.0 L1124.0,1673.8 L1126.0,1674.7 L1128.0,1675.6 L1130.0,1676.5 L1132.0,1677.5 L1134.0,1678.4 L1136.0,1679.4 L1138.0,1680.4 L1140.0,1681.4 L1142.0,1682.3 L1144.0,1683.3 L1146.0,1684.3 L1148.0,1685.2 L1150.0,1686.2 L1152.0,1687.1 L1154.0,1688.0 L1156.0,1688.8 L1158.0,1689.6 L1160.0,1690.4 L1162.0,1691.1 L1164.0,1691.8 L1166.0,1692.4 L1168.0,1693.0 L1170.0,1693.5 L1172.0,1694.0 L1174.0,1694.4 L1176.0,1694.8 L1178.0,1695.2 L1180.0,1695.6 L1182.0,1696.0 L1184.0,1696.4 L1186.0,1696.7 L1188.0,1697.1 L1190.0,1697.4 L1192.0,1697.7 L1194.0,1698.0 L1196.0,1698.3 L1198.0,1698.5 L1200.0,1698.7 L1202.0,1698.9 L1204.0,1699.1 L1206.0,1699.3 L1208.0,1699.4 L1210.0,1699.5 L1212.0,1699.6 L1214.0,1699.7 L1216.0,1699.7 L1218.0,1699.8 L1220.0,1699.9 L1222.0,1700.0 L1224.0,1700.0 L1226.0,1700.1 L1228.0,1700.2 L1230.0,1700.2 L1232.0,1700.3 L1234.0,1700.3 L1236.0,1700.4 L1238.0,1700.4 L1240.0,1700.5 L1242.0,1700.5 L1244.0,1700.5 L1246.0,1700.6 L1248.0,1700.6 L1250.0,1700.6 L1252.0,1700.6 L1254.0,1700.6 L1254.5,1700.6" stroke-width="4.4"/>
<path d="M442.0,1565.7 L444.0,1565.5 L446.0,1565.2 L448.0,1564.8 L450.0,1564.5 L452.0,1564.1 L454.0,1563.6 L456.0,1563.2 L458.0,1562.7 L460.0,1562.1 L462.0,1561.6 L464.0,1561.0 L466.0,1560.3 L468.0,1559.7 L470.0,1559.0 L472.0,1558.3 L474.0,1557.5 L476.0,1556.8 L478.0,1556.0 L480.0,1555.2 L482.0,1554.5 L484.0,1553.7 L486.0,1552.9 L488.0,1552.2 L490.0,1551.5 L492.0,1550.8 L494.0,1550.1 L496.0,1549.5 L498.0,1548.9 L500.0,1548.4 L502.0,1548.0 L504.0,1547.6 L506.0,1547.3 L508.0,1547.1 L510.0,1546.9 L512.0,1546.9 L514.0,1546.9 L516.0,1547.0 L518.0,1547.2 L520.0,1547.5 L522.0,1547.9 L524.0,1548.4 L526.0,1548.9 L528.0,1549.5 L530.0,1550.2 L532.0,1551.0 L534.0,1551.8 L536.0,1552.6 L538.0,1553.5 L540.0,1554.5 L542.0,1555.4 L544.0,1556.4 L546.0,1557.4 L548.0,1558.4 L550.0,1559.5 L552.0,1560.5 L554.0,1561.5 L556.0,1562.5 L558.0,1563.4 L560.0,1564.4 L562.0,1565.3 L564.0,1566.2 L566.0,1567.1 L568.0,1567.9 L570.0,1568.7 L572.0,1569.5 L574.0,1570.2 L576.0,1570.9 L578.0,1571.6 L580.0,1572.2 L582.0,1572.8 L584.0,1573.4 L586.0,1573.9 L588.0,1574.4 L590.0,1574.9 L592.0,1575.3" stroke-width="4.2"/>
<path d="M500.0,1568.9 L502.0,1568.9 L504.0,1568.9 L506.0,1568.8 L508.0,1568.7 L510.0,1568.6 L512.0,1568.5 L514.0,1568.3 L516.0,1568.1 L518.0,1567.9 L520.0,1567.7 L522.0,1567.4 L524.0,1567.1 L526.0,1566.7 L528.0,1566.3 L530.0,1565.9 L532.0,1565.5 L534.0,1565.0 L536.0,1564.5 L538.0,1563.9 L540.0,1563.3 L542.0,1562.7 L544.0,1562.0 L546.0,1561.4 L548.0,1560.7 L550.0,1559.9 L552.0,1559.2 L554.0,1558.5 L556.0,1557.7 L558.0,1557.0 L560.0,1556.2 L562.0,1555.5 L564.0,1554.8 L566.0,1554.1 L568.0,1553.5 L570.0,1552.9 L572.0,1552.3 L574.0,1551.8 L576.0,1551.3 L578.0,1550.9 L580.0,1550.6 L582.0,1550.4 L584.0,1550.2 L586.0,1550.1 L588.0,1550.1 L590.0,1550.2 L592.0,1550.4 L594.0,1550.7 L596.0,1551.1 L598.0,1551.5 L600.0,1552.0 L602.0,1552.6 L604.0,1553.3 L606.0,1554.1 L608.0,1554.9 L610.0,1555.7 L612.0,1556.6 L614.0,1557.6 L616.0,1558.5 L618.0,1559.5 L620.0,1560.6 L622.0,1561.6 L624.0,1562.7 L626.0,1563.7 L628.0,1564.7 L630.0,1565.8 L632.0,1566.8 L634.0,1567.8 L636.0,1568.8 L638.0,1569.8 L640.0,1570.7 L642.0,1571.6 L644.0,1572.5 L646.0,1573.3 L648.0,1574.1 L650.0,1574.9 L652.0,1575.6 L654.0,1576.3 L656.0,1577.0 L658.0,1577.6 L660.0,1578.3 L662.0,1578.8 L664.0,1579.4 L666.0,1579.9 L668.0,1580.4 L670.0,1580.9 L672.0,1581.4 L674.0,1581.8 L676.0,1582.2 L678.0,1582.6 L680.0,1583.0" stroke-width="4.2"/>
<path d="M586.0,1574.6 L588.0,1574.6 L590.0,1574.6 L592.0,1574.6 L594.0,1574.5 L596.0,1574.5 L598.0,1574.4 L600.0,1574.2 L602.0,1574.1 L604.0,1573.9 L606.0,1573.7 L608.0,1573.4 L610.0,1573.1 L612.0,1572.7 L614.0,1572.3 L616.0,1571.9 L618.0,1571.4 L620.0,1570.9 L622.0,1570.3 L624.0,1569.7 L626.0,1569.0 L628.0,1568.2 L630.0,1567.4 L632.0,1566.6 L634.0,1565.7 L636.0,1564.8 L638.0,1563.8 L640.0,1562.8 L642.0,1561.8 L644.0,1560.7 L646.0,1559.6 L648.0,1558.6 L650.0,1557.5 L652.0,1556.4 L654.0,1555.3 L656.0,1554.2 L658.0,1553.2 L660.0,1552.2 L662.0,1551.2 L664.0,1550.3 L666.0,1549.5 L668.0,1548.8 L670.0,1548.1 L672.0,1547.6 L674.0,1547.1 L676.0,1546.8 L678.0,1546.6 L680.0,1546.5 L682.0,1546.6 L684.0,1546.8 L686.0,1547.1 L688.0,1547.6 L690.0,1548.1 L692.0,1548.9 L694.0,1549.7 L696.0,1550.6 L698.0,1551.7 L700.0,1552.8 L702.0,1554.1 L704.0,1555.4 L706.0,1556.8 L708.0,1558.3 L710.0,1559.8 L712.0,1561.3 L714.0,1562.9 L716.0,1564.5 L718.0,1566.1 L720.0,1567.7 L722.0,1569.4 L724.0,1571.0 L726.0,1572.5 L728.0,1574.1 L730.0,1575.6 L732.0,1577.1 L734.0,1578.6 L736.0,1580.0 L738.0,1581.4 L740.0,1582.7 L742.0,1584.0 L744.0,1585.2 L746.0,1586.4 L748.0,1587.5 L750.0,1588.6 L752.0,1589.6 L754.0,1590.6 L756.0,1591.5 L758.0,1592.4 L760.0,1593.3 L762.0,1594.1 L764.0,1594.9 L766.0,1595.7 L768.0,1596.5 L770.0,1597.2 L772.0,1598.0 L774.0,1598.8 L776.0,1599.5 L778.0,1600.2 L780.0,1601.0 L782.0,1601.7" stroke-width="4.2"/>
<path d="M646.0,1579.4 L648.0,1579.5 L650.0,1579.6 L652.0,1579.7 L654.0,1579.8 L656.0,1579.8 L658.0,1579.8 L660.0,1579.8 L662.0,1579.8 L664.0,1579.8 L666.0,1579.7 L668.0,1579.6 L670.0,1579.4 L672.0,1579.2 L674.0,1579.0 L676.0,1578.7 L678.0,1578.3 L680.0,1577.9 L682.0,1577.4 L684.0,1576.8 L686.0,1576.2 L688.0,1575.4 L690.0,1574.6 L692.0,1573.6 L694.0,1572.6 L696.0,1571.4 L698.0,1570.1 L700.0,1568.7 L702.0,1567.2 L704.0,1565.6 L706.0,1563.8 L708.0,1561.9 L710.0,1559.9 L712.0,1557.8 L714.0,1555.6 L716.0,1553.2 L718.0,1550.8 L720.0,1548.2 L722.0,1545.6 L724.0,1542.9 L726.0,1540.2 L728.0,1537.4 L730.0,1534.7 L732.0,1531.9 L734.0,1529.1 L736.0,1526.4 L738.0,1523.8 L740.0,1521.2 L742.0,1518.8 L744.0,1516.5 L746.0,1514.4 L748.0,1512.5 L750.0,1510.8 L752.0,1509.3 L754.0,1508.0 L756.0,1507.1 L758.0,1506.4 L760.0,1506.0 L762.0,1506.0 L764.0,1506.2 L766.0,1506.8 L768.0,1507.8 L770.0,1509.0 L772.0,1510.6 L774.0,1512.5 L776.0,1514.7 L778.0,1517.1 L780.0,1519.8 L782.0,1522.7 L784.0,1525.8 L786.0,1529.1 L788.0,1532.5 L790.0,1536.0 L792.0,1539.6 L794.0,1543.3 L796.0,1547.0 L798.0,1550.7 L800.0,1554.4 L802.0,1558.0 L804.0,1561.6 L806.0,1565.2 L808.0,1568.6 L810.0,1572.0 L812.0,1575.2 L814.0,1578.3 L816.0,1581.2 L818.0,1584.0 L820.0,1586.7 L822.0,1589.2 L824.0,1591.6 L826.0,1593.8 L828.0,1595.9 L830.0,1597.8 L832.0,1599.6 L834.0,1601.3 L836.0,1602.9 L838.0,1604.4 L840.0,1605.7 L842.0,1606.9 L844.0,1608.1 L846.0,1609.2 L848.0,1610.1 L850.0,1611.0 L852.0,1611.9 L854.0,1612.7 L856.0,1613.4 L858.0,1614.1 L860.0,1614.7 L862.0,1615.4 L864.0,1615.9 L866.0,1616.5 L868.0,1617.0 L870.0,1617.5 L872.0,1618.0 L874.0,1618.5 L876.0,1618.9 L878.0,1619.4 L880.0,1619.8 L882.0,1620.2" stroke-width="4.2"/>
<path d="M738.0,1592.0 L740.0,1592.3 L742.0,1592.5 L744.0,1592.7 L746.0,1592.9 L748.0,1593.1 L750.0,1593.3 L752.0,1593.4 L754.0,1593.5 L756.0,1593.6 L758.0,1593.7 L760.0,1593.7 L762.0,1593.7 L764.0,1593.6 L766.0,1593.6 L768.0,1593.5 L770.0,1593.4 L772.0,1593.2 L774.0,1593.1 L776.0,1592.9 L778.0,1592.6 L780.0,1592.3 L782.0,1592.0 L784.0,1591.5 L786.0,1591.1 L788.0,1590.6 L790.0,1590.0 L792.0,1589.4 L794.0,1588.7 L796.0,1588.0 L798.0,1587.3 L800.0,1586.5 L802.0,1585.6 L804.0,1584.7 L806.0,1583.8 L808.0,1582.9 L810.0,1582.0 L812.0,1581.0 L814.0,1580.1 L816.0,1579.2 L818.0,1578.2 L820.0,1577.4 L822.0,1576.6 L824.0,1575.8 L826.0,1575.1 L828.0,1574.6 L830.0,1574.1 L832.0,1573.7 L834.0,1573.5 L836.0,1573.4 L838.0,1573.4 L840.0,1573.6 L842.0,1573.9 L844.0,1574.3 L846.0,1574.9 L848.0,1575.6 L850.0,1576.5 L852.0,1577.5 L854.0,1578.6 L856.0,1579.8 L858.0,1581.1 L860.0,1582.5 L862.0,1584.0 L864.0,1585.6 L866.0,1587.2 L868.0,1588.9 L870.0,1590.6 L872.0,1592.3 L874.0,1594.1 L876.0,1595.8 L878.0,1597.5 L880.0,1599.3 L882.0,1601.0 L884.0,1602.6 L886.0,1604.3 L888.0,1605.8 L890.0,1607.4 L892.0,1608.9 L894.0,1610.3 L896.0,1611.7 L898.0,1613.0 L900.0,1614.3 L902.0,1615.5 L904.0,1616.7 L906.0,1617.8 L908.0,1618.8 L910.0,1619.8 L912.0,1620.7 L914.0,1621.6 L916.0,1622.4 L918.0,1623.2 L920.0,1623.9 L922.0,1624.6 L924.0,1625.2 L926.0,1625.8 L928.0,1626.4 L930.0,1626.9 L932.0,1627.4 L934.0,1627.9 L936.0,1628.3 L938.0,1628.8 L940.0,1629.1 L942.0,1629.5" stroke-width="4.2"/>
<path d="M826.0,1612.7 L828.0,1612.8 L830.0,1613.0 L832.0,1613.1 L834.0,1613.2 L836.0,1613.2 L838.0,1613.3 L840.0,1613.3 L842.0,1613.3 L844.0,1613.2 L846.0,1613.1 L848.0,1613.0 L850.0,1612.8 L852.0,1612.6 L854.0,1612.3 L856.0,1612.0 L858.0,1611.6 L860.0,1611.2 L862.0,1610.8 L864.0,1610.2 L866.0,1609.6 L868.0,1609.0 L870.0,1608.2 L872.0,1607.4 L874.0,1606.5 L876.0,1605.6 L878.0,1604.5 L880.0,1603.4 L882.0,1602.2 L884.0,1601.0 L886.0,1599.6 L888.0,1598.2 L890.0,1596.8 L892.0,1595.3 L894.0,1593.8 L896.0,1592.2 L898.0,1590.6 L900.0,1589.0 L902.0,1587.4 L904.0,1585.8 L906.0,1584.2 L908.0,1582.7 L910.0,1581.2 L912.0,1579.8 L914.0,1578.5 L916.0,1577.2 L918.0,1576.1 L920.0,1575.1 L922.0,1574.3 L924.0,1573.6 L926.0,1573.0 L928.0,1572.7 L930.0,1572.5 L932.0,1572.4 L934.0,1572.6 L936.0,1573.0 L938.0,1573.5 L940.0,1574.3 L942.0,1575.2 L944.0,1576.3 L946.0,1577.5 L948.0,1578.9 L950.0,1580.5 L952.0,1582.2 L954.0,1583.9 L956.0,1585.8 L958.0,1587.8 L960.0,1589.8 L962.0,1591.9 L964.0,1594.0 L966.0,1596.1 L968.0,1598.3 L970.0,1600.5 L972.0,1602.6 L974.0,1604.7 L976.0,1606.8 L978.0,1608.9 L980.0,1610.9 L982.0,1612.8 L984.0,1614.7 L986.0,1616.5 L988.0,1618.3 L990.0,1620.0 L992.0,1621.6 L994.0,1623.1 L996.0,1624.6 L998.0,1626.0 L1000.0,1627.3 L1002.0,1628.5 L1004.0,1629.7 L1006.0,1630.8 L1008.0,1631.8 L1010.0,1632.8 L1012.0,1633.7 L1014.0,1634.6 L1016.0,1635.4 L1018.0,1636.2 L1020.0,1637.0 L1022.0,1637.7 L1024.0,1638.4 L1026.0,1639.1 L1028.0,1639.7 L1030.0,1640.3 L1032.0,1641.0 L1034.0,1641.6 L1036.0,1642.2 L1038.0,1642.8 L1040.0,1643.4" stroke-width="4.2"/>
<path d="M932.0,1628.1 L934.0,1628.3 L936.0,1628.4 L938.0,1628.5 L940.0,1628.6 L942.0,1628.7 L944.0,1628.7 L946.0,1628.7 L948.0,1628.6 L950.0,1628.5 L952.0,1628.4 L954.0,1628.2 L956.0,1628.0 L958.0,1627.7 L960.0,1627.3 L962.0,1626.9 L964.0,1626.4 L966.0,1625.9 L968.0,1625.3 L970.0,1624.6 L972.0,1623.8 L974.0,1622.9 L976.0,1622.0 L978.0,1621.0 L980.0,1619.8 L982.0,1618.6 L984.0,1617.3 L986.0,1616.0 L988.0,1614.5 L990.0,1613.0 L992.0,1611.4 L994.0,1609.7 L996.0,1608.0 L998.0,1606.2 L1000.0,1604.3 L1002.0,1602.5 L1004.0,1600.6 L1006.0,1598.7 L1008.0,1596.8 L1010.0,1595.0 L1012.0,1593.1 L1014.0,1591.4 L1016.0,1589.7 L1018.0,1588.1 L1020.0,1586.5 L1022.0,1585.2 L1024.0,1583.9 L1026.0,1582.8 L1028.0,1581.9 L1030.0,1581.2 L1032.0,1580.6 L1034.0,1580.3 L1036.0,1580.2 L1038.0,1580.4 L1040.0,1580.7 L1042.0,1581.3 L1044.0,1582.1 L1046.0,1583.2 L1048.0,1584.4 L1050.0,1585.9 L1052.0,1587.6 L1054.0,1589.4 L1056.0,1591.4 L1058.0,1593.6 L1060.0,1595.9 L1062.0,1598.4 L1064.0,1600.9 L1066.0,1603.5 L1068.0,1606.2 L1070.0,1609.0 L1072.0,1611.7 L1074.0,1614.5 L1076.0,1617.3 L1078.0,1620.1 L1080.0,1622.9 L1082.0,1625.7 L1084.0,1628.4 L1086.0,1631.1 L1088.0,1633.8 L1090.0,1636.4 L1092.0,1639.0 L1094.0,1641.4 L1096.0,1643.9 L1098.0,1646.2 L1100.0,1648.5 L1102.0,1650.7 L1104.0,1652.8 L1106.0,1654.8 L1108.0,1656.8 L1110.0,1658.6 L1112.0,1660.4 L1114.0,1662.1 L1116.0,1663.8 L1118.0,1665.3 L1120.0,1666.8 L1122.0,1668.2 L1124.0,1669.6 L1126.0,1670.9 L1128.0,1672.2 L1130.0,1673.5 L1132.0,1674.8 L1134.0,1676.0 L1136.0,1677.3 L1138.0,1678.5 L1140.0,1679.7 L1142.0,1680.8 L1144.0,1682.0 L1146.0,1683.1 L1148.0,1684.1" stroke-width="4.2"/>
<path d="M1006.0,1637.2 L1008.0,1637.4 L1010.0,1637.5 L1012.0,1637.6 L1014.0,1637.7 L1016.0,1637.7 L1018.0,1637.7 L1020.0,1637.7 L1022.0,1637.7 L1024.0,1637.6 L1026.0,1637.4 L1028.0,1637.2 L1030.0,1637.0 L1032.0,1636.6 L1034.0,1636.2 L1036.0,1635.7 L1038.0,1635.1 L1040.0,1634.3 L1042.0,1633.5 L1044.0,1632.5 L1046.0,1631.3 L1048.0,1630.0 L1050.0,1628.5 L1052.0,1626.8 L1054.0,1624.9 L1056.0,1622.7 L1058.0,1620.4 L1060.0,1617.8 L1062.0,1615.0 L1064.0,1612.0 L1066.0,1608.7 L1068.0,1605.1 L1070.0,1601.3 L1072.0,1597.2 L1074.0,1592.9 L1076.0,1588.4 L1078.0,1583.6 L1080.0,1578.7 L1082.0,1573.5 L1084.0,1568.3 L1086.0,1562.9 L1088.0,1557.4 L1090.0,1551.9 L1092.0,1546.4 L1094.0,1540.9 L1096.0,1535.4 L1098.0,1530.1 L1100.0,1524.8 L1102.0,1519.8 L1104.0,1515.0 L1106.0,1510.5 L1108.0,1506.3 L1110.0,1502.5 L1112.0,1499.2 L1114.0,1496.2 L1116.0,1493.8 L1118.0,1491.9 L1120.0,1490.6 L1122.0,1489.9 L1124.0,1489.8 L1126.0,1490.4 L1128.0,1491.6 L1130.0,1493.5 L1132.0,1496.0 L1134.0,1499.1 L1136.0,1502.8 L1138.0,1507.1 L1140.0,1511.8 L1142.0,1517.1 L1144.0,1522.7 L1146.0,1528.7 L1148.0,1535.1 L1150.0,1541.6 L1152.0,1548.4 L1154.0,1555.4 L1156.0,1562.4 L1158.0,1569.5 L1160.0,1576.6 L1162.0,1583.7 L1164.0,1590.6 L1166.0,1597.5 L1168.0,1604.2 L1170.0,1610.6 L1172.0,1616.9 L1174.0,1622.9 L1176.0,1628.7 L1178.0,1634.3 L1180.0,1639.6 L1182.0,1644.7 L1184.0,1649.5 L1186.0,1654.0 L1188.0,1658.3 L1190.0,1662.3 L1192.0,1666.0 L1194.0,1669.4 L1196.0,1672.6 L1198.0,1675.5 L1200.0,1678.2 L1202.0,1680.7 L1204.0,1682.9 L1206.0,1684.9 L1208.0,1686.7 L1210.0,1688.3 L1212.0,1689.8 L1214.0,1691.1 L1216.0,1692.2 L1218.0,1693.3 L1220.0,1694.2 L1222.0,1695.0 L1224.0,1695.8 L1226.0,1696.4 L1228.0,1697.0 L1230.0,1697.6 L1232.0,1698.0 L1234.0,1698.4 L1236.0,1698.8 L1238.0,1699.1 L1240.0,1699.4" stroke-width="4.2"/>
<path d="M434.0,1566.5 L436.0,1566.3 L438.0,1566.1 L440.0,1565.9 L442.0,1565.7 L444.0,1565.4 L446.0,1565.1 L448.0,1564.8 L450.0,1564.4 L452.0,1564.0 L454.0,1563.5 L456.0,1563.1 L458.0,1562.5 L460.0,1562.0 L462.0,1561.4 L464.0,1560.8 L466.0,1560.1 L468.0,1559.4 L470.0,1558.7 L472.0,1558.0 L474.0,1557.2 L476.0,1556.4 L478.0,1555.6 L480.0,1554.8 L482.0,1554.0 L484.0,1553.1 L486.0,1552.3 L488.0,1551.5 L490.0,1550.7 L492.0,1549.9 L494.0,1549.1 L496.0,1548.4 L498.0,1547.7 L500.0,1547.1 L502.0,1546.5 L504.0,1545.9 L506.0,1545.4 L508.0,1545.0 L510.0,1544.6 L512.0,1544.3 L514.0,1544.0 L516.0,1543.8 L518.0,1543.6 L520.0,1543.6 L522.0,1543.5 L524.0,1543.5 L526.0,1543.6 L528.0,1543.7 L530.0,1543.8 L532.0,1544.0 L534.0,1544.1 L536.0,1544.3 L538.0,1544.5 L540.0,1544.7 L542.0,1544.9 L544.0,1545.1 L546.0,1545.3 L548.0,1545.4 L550.0,1545.6 L552.0,1545.7 L554.0,1545.8 L556.0,1545.9 L558.0,1545.9 L560.0,1546.0 L562.0,1546.0 L564.0,1546.0 L566.0,1546.0 L568.0,1546.0 L570.0,1546.0 L572.0,1546.0 L574.0,1546.1 L576.0,1546.1 L578.0,1546.1 L580.0,1546.2 L582.0,1546.3 L584.0,1546.4 L586.0,1546.6 L588.0,1546.8 L590.0,1547.1 L592.0,1547.4 L594.0,1547.7 L596.0,1548.1 L598.0,1548.5 L600.0,1548.9 L602.0,1549.2 L604.0,1549.5 L606.0,1549.9 L608.0,1550.2 L610.0,1550.6 L612.0,1551.0 L614.0,1551.4 L616.0,1551.7 L618.0,1552.1 L620.0,1552.4 L622.0,1552.6 L624.0,1552.9 L626.0,1553.0 L628.0,1553.1 L630.0,1553.2 L632.0,1553.1 L634.0,1553.0 L636.0,1552.9 L638.0,1552.6 L640.0,1552.3 L642.0,1552.0 L644.0,1551.5 L646.0,1551.0 L648.0,1550.4 L650.0,1549.8 L652.0,1549.1 L654.0,1548.4 L656.0,1547.7 L658.0,1546.9 L660.0,1546.1 L662.0,1545.3 L664.0,1544.5 L666.0,1543.7 L668.0,1542.9 L670.0,1542.1 L672.0,1541.4 L674.0,1540.6 L676.0,1540.0 L678.0,1539.3 L680.0,1538.7 L682.0,1538.2 L684.0,1537.6 L686.0,1537.1 L688.0,1536.7 L690.0,1536.2 L692.0,1535.8 L694.0,1535.3 L696.0,1534.9 L698.0,1534.4 L700.0,1533.9 L702.0,1533.4 L704.0,1532.8 L706.0,1532.1 L708.0,1531.4 L710.0,1530.6 L712.0,1529.7 L714.0,1528.7 L716.0,1527.6 L718.0,1526.5 L720.0,1525.2 L722.0,1523.8 L724.0,1522.4 L726.0,1520.8 L728.0,1519.2 L730.0,1517.6 L732.0,1515.9 L734.0,1514.2 L736.0,1512.4 L738.0,1510.7 L740.0,1509.0 L742.0,1507.3 L744.0,1505.8 L746.0,1504.3 L748.0,1502.9 L750.0,1501.6 L752.0,1500.5 L754.0,1499.6 L756.0,1498.9 L758.0,1498.4 L760.0,1498.1 L762.0,1498.0 L764.0,1498.2 L766.0,1498.6 L768.0,1499.3 L770.0,1500.2 L772.0,1501.4 L774.0,1502.8 L776.0,1504.4 L778.0,1506.2 L780.0,1508.1 L782.0,1510.2 L784.0,1512.4 L786.0,1514.7 L788.0,1517.1 L790.0,1519.5 L792.0,1521.9 L794.0,1524.4 L796.0,1526.8 L798.0,1529.2 L800.0,1531.5 L802.0,1533.8 L804.0,1536.0 L806.0,1538.1 L808.0,1540.1 L810.0,1542.0 L812.0,1543.9 L814.0,1545.6 L816.0,1547.1 L818.0,1548.6 L820.0,1550.0 L822.0,1551.3 L824.0,1552.6 L826.0,1553.7 L828.0,1554.9 L830.0,1556.0 L832.0,1557.0 L834.0,1558.1 L836.0,1559.1 L838.0,1560.1 L840.0,1561.2 L842.0,1562.2 L844.0,1563.3 L846.0,1564.4 L848.0,1565.5 L850.0,1566.6 L852.0,1567.7 L854.0,1568.8 L856.0,1570.0 L858.0,1571.1 L860.0,1572.2 L862.0,1573.3 L864.0,1574.3 L866.0,1575.3 L868.0,1576.2 L870.0,1577.1 L872.0,1577.8 L874.0,1578.5 L876.0,1579.1 L878.0,1579.6 L880.0,1580.0 L882.0,1580.3 L884.0,1580.4 L886.0,1580.4 L888.0,1580.4 L890.0,1580.2 L892.0,1579.9 L894.0,1579.5 L896.0,1579.0 L898.0,1578.5 L900.0,1577.8 L902.0,1577.1 L904.0,1576.3 L906.0,1575.5 L908.0,1574.7 L910.0,1573.9 L912.0,1573.1 L914.0,1572.3 L916.0,1571.5 L918.0,1570.9 L920.0,1570.3 L922.0,1569.7 L924.0,1569.3 L926.0,1569.0 L928.0,1568.9 L930.0,1568.8 L932.0,1569.0 L934.0,1569.2 L936.0,1569.6 L938.0,1570.2 L940.0,1570.9 L942.0,1571.7 L944.0,1572.7 L946.0,1573.8 L948.0,1575.0 L950.0,1576.3 L952.0,1577.7 L954.0,1579.1 L956.0,1580.6 L958.0,1582.1 L960.0,1583.5 L962.0,1585.0 L964.0,1586.5 L966.0,1587.9 L968.0,1589.2 L970.0,1590.5 L972.0,1591.7 L974.0,1592.8 L976.0,1593.7 L978.0,1594.5 L980.0,1595.1 L982.0,1595.6 L984.0,1595.9 L986.0,1596.1 L988.0,1596.1 L990.0,1596.0 L992.0,1595.7 L994.0,1595.2 L996.0,1594.6 L998.0,1593.9 L1000.0,1593.0 L1002.0,1592.0 L1004.0,1590.9 L1006.0,1589.7 L1008.0,1588.5 L1010.0,1587.1 L1012.0,1585.7 L1014.0,1584.3 L1016.0,1582.9 L1018.0,1581.4 L1020.0,1580.0 L1022.0,1578.6 L1024.0,1577.2 L1026.0,1575.9 L1028.0,1574.7 L1030.0,1573.5 L1032.0,1572.5 L1034.0,1571.5 L1036.0,1570.6 L1038.0,1569.8 L1040.0,1569.1 L1042.0,1568.4 L1044.0,1567.8 L1046.0,1567.3 L1048.0,1566.8 L1050.0,1566.3 L1052.0,1565.8 L1054.0,1565.3 L1056.0,1564.6 L1058.0,1564.0 L1060.0,1563.2 L1062.0,1562.2 L1064.0,1561.2 L1066.0,1559.9 L1068.0,1558.4 L1070.0,1556.8 L1072.0,1554.9 L1074.0,1552.8 L1076.0,1550.5 L1078.0,1547.9 L1080.0,1545.1 L1082.0,1542.1 L1084.0,1538.9 L1086.0,1535.5 L1088.0,1532.0 L1090.0,1528.3 L1092.0,1524.6 L1094.0,1520.8 L1096.0,1517.0 L1098.0,1513.1 L1100.0,1509.4 L1102.0,1505.7 L1104.0,1502.2 L1106.0,1498.8 L1108.0,1495.8 L1110.0,1493.0 L1112.0,1490.5 L1114.0,1488.5 L1116.0,1486.8 L1118.0,1485.6 L1120.0,1485.0 L1122.0,1484.8 L1124.0,1485.3 L1126.0,1486.3 L1128.0,1487.9 L1130.0,1490.2 L1132.0,1493.0 L1134.0,1496.5 L1136.0,1500.5 L1138.0,1505.0 L1140.0,1509.9 L1142.0,1515.3 L1144.0,1521.2 L1146.0,1527.3 L1148.0,1533.8 L1150.0,1540.5 L1152.0,1547.4 L1154.0,1554.4 L1156.0,1561.5 L1158.0,1568.7 L1160.0,1575.8 L1162.0,1582.9 L1164.0,1590.0 L1166.0,1596.8 L1168.0,1603.6 L1170.0,1610.1 L1172.0,1616.4 L1174.0,1622.4 L1176.0,1628.2 L1178.0,1633.8 L1180.0,1639.2 L1182.0,1644.3 L1184.0,1649.1 L1186.0,1653.7 L1188.0,1657.9 L1190.0,1661.9 L1192.0,1665.7 L1194.0,1669.1 L1196.0,1672.3 L1198.0,1675.3 L1200.0,1678.0 L1202.0,1680.4 L1204.0,1682.7 L1206.0,1684.7 L1208.0,1686.5 L1210.0,1688.1 L1212.0,1689.6 L1214.0,1690.9 L1216.0,1692.1 L1218.0,1693.1 L1220.0,1694.1 L1222.0,1694.9 L1224.0,1695.7 L1226.0,1696.3 L1228.0,1696.9 L1230.0,1697.5 L1232.0,1697.9 L1234.0,1698.3 L1236.0,1698.7 L1238.0,1699.0 L1240.0,1699.3 L1242.0,1699.6 L1244.0,1699.8 L1246.0,1700.0 L1248.0,1700.2 L1250.0,1700.3 L1252.0,1700.5 L1254.0,1700.6 L1254.5,1700.6" stroke-width="4.7"/>
<path d="M605.0,1024.9 L607.0,1025.1 L609.0,1025.3 L611.0,1025.5 L613.0,1025.8 L615.0,1026.0 L617.0,1026.2 L619.0,1026.4 L621.0,1026.6 L623.0,1026.8 L625.0,1027.0 L627.0,1027.2 L629.0,1027.4 L631.0,1027.6 L633.0,1027.8 L635.0,1028.0 L637.0,1028.2 L639.0,1028.4 L641.0,1028.6 L643.0,1028.8 L645.0,1028.9 L647.0,1029.1 L649.0,1029.2 L651.0,1029.4 L653.0,1029.5 L655.0,1029.7 L657.0,1029.8 L659.0,1030.0 L661.0,1030.2 L663.0,1030.5 L665.0,1030.8 L667.0,1031.1 L669.0,1031.5 L671.0,1032.1 L673.0,1032.7 L675.0,1033.4 L677.0,1034.2 L679.0,1035.1 L681.0,1035.9 L683.0,1036.9 L685.0,1038.1 L687.0,1039.3 L689.0,1040.6 L691.0,1042.0 L693.0,1043.4 L695.0,1044.9 L697.0,1046.3 L699.0,1047.8 L701.0,1049.2 L703.0,1050.7 L705.0,1052.2 L707.0,1053.8 L709.0,1055.4 L711.0,1057.0 L713.0,1058.6 L715.0,1060.3 L717.0,1062.0 L719.0,1063.7 L721.0,1065.4 L723.0,1067.1 L725.0,1068.8 L727.0,1070.5 L729.0,1072.3 L731.0,1074.1 L733.0,1075.9 L735.0,1077.8 L737.0,1079.7 L739.0,1081.6 L741.0,1083.6 L743.0,1085.7 L745.0,1087.8 L747.0,1090.0 L749.0,1092.2 L751.0,1094.5 L753.0,1096.7 L755.0,1099.0 L757.0,1101.3 L759.0,1103.5 L761.0,1105.7 L763.0,1108.0 L765.0,1110.3 L767.0,1112.6 L769.0,1114.9 L771.0,1117.2 L773.0,1119.4 L775.0,1121.6 L777.0,1123.7 L779.0,1125.7 L781.0,1127.6 L783.0,1129.5 L785.0,1131.3 L787.0,1133.0 L789.0,1134.7 L791.0,1136.4 L793.0,1138.0 L795.0,1139.6 L797.0,1141.2 L799.0,1142.7 L801.0,1144.3 L803.0,1145.8 L805.0,1147.3 L807.0,1148.8 L809.0,1150.2 L811.0,1151.7 L813.0,1153.0 L815.0,1154.4 L817.0,1155.7 L819.0,1156.9 L821.0,1158.1 L823.0,1159.2 L825.0,1160.2 L827.0,1161.2 L829.0,1162.2 L831.0,1163.1 L833.0,1164.1 L835.0,1165.0 L837.0,1166.0 L839.0,1167.0 L841.0,1168.0 L843.0,1169.1 L845.0,1170.2 L847.0,1171.2 L849.0,1172.3 L851.0,1173.4 L853.0,1174.5 L855.0,1175.6 L857.0,1176.7 L859.0,1177.8 L861.0,1178.8 L863.0,1179.9 L865.0,1180.9 L867.0,1182.0 L869.0,1183.0 L871.0,1184.1 L873.0,1185.1 L875.0,1186.1 L877.0,1187.0 L879.0,1187.9 L881.0,1188.8 L883.0,1189.7 L885.0,1190.5 L887.0,1191.3 L889.0,1192.1 L891.0,1192.9 L893.0,1193.7 L895.0,1194.4 L897.0,1195.2 L899.0,1196.0 L901.0,1196.8 L903.0,1197.6 L905.0,1198.4 L907.0,1199.2 L909.0,1199.9 L911.0,1200.7 L913.0,1201.5 L915.0,1202.3 L917.0,1203.1 L919.0,1204.0 L921.0,1204.8 L923.0,1205.7 L925.0,1206.6 L927.0,1207.6 L929.0,1208.5 L931.0,1209.4 L933.0,1210.4 L935.0,1211.3 L937.0,1212.2 L939.0,1213.0 L941.0,1213.8 L943.0,1214.5 L945.0,1215.3 L947.0,1216.0 L949.0,1216.7 L951.0,1217.3 L953.0,1218.0 L955.0,1218.7 L957.0,1219.4 L959.0,1220.0 L961.0,1220.8 L963.0,1221.5 L965.0,1222.1 L967.0,1222.8 L969.0,1223.5 L971.0,1224.2 L973.0,1224.9 L975.0,1225.7 L977.0,1226.4 L979.0,1227.1 L981.0,1227.9 L983.0,1228.6 L985.0,1229.4 L987.0,1230.2 L989.0,1231.0 L991.0,1231.8 L993.0,1232.6 L995.0,1233.4 L997.0,1234.2 L999.0,1235.1 L1001.0,1235.9 L1003.0,1236.7 L1005.0,1237.5 L1007.0,1238.3 L1009.0,1239.1 L1011.0,1240.0 L1013.0,1240.8 L1015.0,1241.8 L1017.0,1242.8 L1019.0,1243.8 L1021.0,1245.0 L1023.0,1246.4 L1025.0,1247.9 L1027.0,1249.5 L1029.0,1251.2 L1031.0,1252.9 L1033.0,1254.8 L1035.0,1256.7 L1037.0,1258.7 L1039.0,1260.8 L1041.0,1263.0 L1043.0,1265.3 L1045.0,1267.7 L1047.0,1270.2 L1049.0,1272.6 L1051.0,1275.1 L1053.0,1277.4 L1055.0,1279.7 L1057.0,1281.9 L1059.0,1284.3 L1061.0,1286.7 L1063.0,1289.4 L1065.0,1292.2 L1067.0,1295.2 L1069.0,1298.2 L1071.0,1301.4 L1073.0,1304.7 L1075.0,1308.2 L1077.0,1311.7 L1079.0,1315.4 L1081.0,1319.2 L1083.0,1323.1 L1085.0,1327.1 L1087.0,1331.4 L1089.0,1336.1 L1091.0,1340.9 L1093.0,1345.9 L1095.0,1351.1 L1097.0,1356.4 L1099.0,1361.7 L1101.0,1367.0 L1103.0,1372.2 L1105.0,1377.3 L1107.0,1382.4 L1109.0,1387.4 L1111.0,1392.4 L1113.0,1397.5 L1115.0,1402.5 L1117.0,1407.6 L1119.0,1412.6 L1121.0,1417.6 L1123.0,1422.6 L1125.0,1427.5 L1127.0,1432.3 L1129.0,1437.2 L1131.0,1442.0 L1133.0,1446.8 L1135.0,1451.6 L1137.0,1456.2 L1139.0,1460.6 L1141.0,1464.7 L1143.0,1468.9 L1145.0,1473.0 L1147.0,1476.9 L1149.0,1480.6 L1151.0,1484.0 L1153.0,1486.9 L1155.0,1489.4 L1157.0,1491.8 L1159.0,1494.1 L1161.0,1496.2 L1163.0,1498.1 L1165.0,1499.9 L1167.0,1501.6 L1169.0,1503.1 L1171.0,1504.5 L1173.0,1505.8 L1175.0,1507.0 L1177.0,1508.2 L1179.0,1509.3 L1181.0,1510.4 L1183.0,1511.3 L1185.0,1512.3 L1187.0,1513.1 L1189.0,1513.9 L1191.0,1514.6 L1193.0,1515.3 L1195.0,1516.0 L1197.0,1516.6 L1199.0,1517.2 L1201.0,1517.8 L1203.0,1518.4 L1205.0,1518.9 L1207.0,1519.3 L1209.0,1519.7 L1211.0,1520.0 L1213.0,1520.2 L1215.0,1520.3 L1217.0,1520.4 L1219.0,1520.5 L1221.0,1520.7 L1223.0,1520.8 L1225.0,1520.8 L1227.0,1520.9 L1229.0,1521.0 L1231.0,1521.1 L1233.0,1521.1 L1235.0,1521.2 L1237.0,1521.2 L1239.0,1521.3 L1241.0,1521.3 L1243.0,1521.3 L1244.4,1521.3" stroke-width="4.4"/>
<path d="M607.0,1024.4 L609.0,1023.9 L611.0,1023.3 L613.0,1022.6 L615.0,1021.9 L617.0,1021.0 L619.0,1020.1 L621.0,1019.1 L623.0,1018.0 L625.0,1016.8 L627.0,1015.4 L629.0,1014.0 L631.0,1012.5 L633.0,1010.8 L635.0,1009.1 L637.0,1007.2 L639.0,1005.2 L641.0,1003.1 L643.0,1000.9 L645.0,998.6 L647.0,996.2 L649.0,993.7 L651.0,991.1 L653.0,988.5 L655.0,985.8 L657.0,983.0 L659.0,980.3 L661.0,977.6 L663.0,974.9 L665.0,972.3 L667.0,969.7 L669.0,967.4 L671.0,965.2 L673.0,963.3 L675.0,961.6 L677.0,960.1 L679.0,958.8 L681.0,957.8 L683.0,957.1 L685.0,956.9 L687.0,957.0 L689.0,957.5 L691.0,958.4 L693.0,959.6 L695.0,961.2 L697.0,963.1 L699.0,965.3 L701.0,967.8 L703.0,970.6 L705.0,973.8 L707.0,977.1 L709.0,980.8 L711.0,984.6 L713.0,988.7 L715.0,992.9 L717.0,997.2 L719.0,1001.6 L721.0,1006.1 L723.0,1010.7 L725.0,1015.3 L727.0,1019.9 L729.0,1024.6 L731.0,1029.2 L733.0,1033.8 L735.0,1038.4 L737.0,1043.0 L739.0,1047.6 L741.0,1052.1 L743.0,1056.6 L745.0,1061.0 L747.0,1065.4 L749.0,1069.8 L751.0,1074.0 L753.0,1078.2 L755.0,1082.3 L757.0,1086.2 L759.0,1090.0 L761.0,1093.7 L763.0,1097.4 L765.0,1100.9 L767.0,1104.4 L769.0,1107.8 L771.0,1111.1 L773.0,1114.2 L775.0,1117.3 L777.0,1120.1 L779.0,1122.8 L781.0,1125.4 L783.0,1127.8 L785.0,1130.1" stroke-width="4.2"/>
<path d="M627.0,1026.1 L629.0,1026.1 L631.0,1026.2 L633.0,1026.2 L635.0,1026.3 L637.0,1026.3 L639.0,1026.3 L641.0,1026.2 L643.0,1026.2 L645.0,1026.1 L647.0,1026.0 L649.0,1025.8 L651.0,1025.6 L653.0,1025.3 L655.0,1025.1 L657.0,1024.7 L659.0,1024.4 L661.0,1024.0 L663.0,1023.5 L665.0,1023.0 L667.0,1022.5 L669.0,1022.0 L671.0,1021.5 L673.0,1020.9 L675.0,1020.3 L677.0,1019.6 L679.0,1018.8 L681.0,1017.8 L683.0,1016.7 L685.0,1015.6 L687.0,1014.3 L689.0,1012.9 L691.0,1011.3 L693.0,1009.4 L695.0,1007.3 L697.0,1004.9 L699.0,1002.2 L701.0,999.1 L703.0,995.7 L705.0,992.1 L707.0,988.1 L709.0,983.9 L711.0,979.3 L713.0,974.5 L715.0,969.3 L717.0,963.9 L719.0,958.2 L721.0,952.3 L723.0,946.1 L725.0,939.8 L727.0,933.4 L729.0,926.9 L731.0,920.3 L733.0,913.8 L735.0,907.4 L737.0,901.1 L739.0,895.1 L741.0,889.3 L743.0,884.0 L745.0,879.1 L747.0,874.7 L749.0,870.8 L751.0,867.6 L753.0,865.1 L755.0,863.3 L757.0,862.3 L759.0,862.1 L761.0,862.8 L763.0,864.4 L765.0,866.9 L767.0,870.3 L769.0,874.6 L771.0,879.7 L773.0,885.6 L775.0,892.2 L777.0,899.4 L779.0,907.2 L781.0,915.4 L783.0,924.1 L785.0,933.1 L787.0,942.4 L789.0,952.0 L791.0,961.7 L793.0,971.5 L795.0,981.4 L797.0,991.3 L799.0,1001.2 L801.0,1010.9 L803.0,1020.5 L805.0,1030.0 L807.0,1039.2 L809.0,1048.1 L811.0,1056.8 L813.0,1065.1 L815.0,1073.1 L817.0,1080.7 L819.0,1087.9 L821.0,1094.8 L823.0,1101.2 L825.0,1107.2 L827.0,1112.9 L829.0,1118.2 L831.0,1123.1 L833.0,1127.8 L835.0,1132.1 L837.0,1136.2 L839.0,1140.0 L841.0,1143.7 L843.0,1147.1 L845.0,1150.3 L847.0,1153.3 L849.0,1156.2 L851.0,1158.8 L853.0,1161.3 L855.0,1163.7 L857.0,1165.9 L859.0,1167.9 L861.0,1169.9 L863.0,1171.7 L865.0,1173.5 L867.0,1175.2 L869.0,1176.8 L871.0,1178.3 L873.0,1179.7 L875.0,1181.1 L877.0,1182.4 L879.0,1183.7 L881.0,1184.9 L883.0,1186.0 L885.0,1187.0 L887.0,1188.1 L889.0,1189.0 L891.0,1190.0 L893.0,1190.9 L895.0,1191.8 L897.0,1192.7 L899.0,1193.7 L901.0,1194.6 L903.0,1195.5 L905.0,1196.4 L907.0,1197.2 L909.0,1198.1 L911.0,1199.0 L913.0,1199.9 L915.0,1200.8 L917.0,1201.6 L919.0,1202.5 L921.0,1203.5 L923.0,1204.4 L925.0,1205.4 L927.0,1206.4" stroke-width="4.2"/>
<path d="M737.0,1078.5 L739.0,1080.4 L741.0,1082.3 L743.0,1084.3 L745.0,1086.4 L747.0,1088.5 L749.0,1090.6 L751.0,1092.8 L753.0,1094.9 L755.0,1097.1 L757.0,1099.2 L759.0,1101.3 L761.0,1103.4 L763.0,1105.4 L765.0,1107.5 L767.0,1109.6 L769.0,1111.7 L771.0,1113.7 L773.0,1115.6 L775.0,1117.4 L777.0,1119.1 L779.0,1120.6 L781.0,1122.0 L783.0,1123.3 L785.0,1124.5 L787.0,1125.5 L789.0,1126.4 L791.0,1127.2 L793.0,1127.8 L795.0,1128.3 L797.0,1128.7 L799.0,1129.0 L801.0,1129.1 L803.0,1129.1 L805.0,1129.0 L807.0,1128.7 L809.0,1128.3 L811.0,1127.8 L813.0,1127.0 L815.0,1126.1 L817.0,1125.0 L819.0,1123.8 L821.0,1122.4 L823.0,1120.8 L825.0,1119.0 L827.0,1117.2 L829.0,1115.2 L831.0,1113.2 L833.0,1111.2 L835.0,1109.1 L837.0,1107.1 L839.0,1105.1 L841.0,1103.3 L843.0,1101.5 L845.0,1099.9 L847.0,1098.4 L849.0,1097.1 L851.0,1096.0 L853.0,1095.0 L855.0,1094.4 L857.0,1094.0 L859.0,1093.8 L861.0,1094.0 L863.0,1094.4 L865.0,1095.2 L867.0,1096.4 L869.0,1097.8 L871.0,1099.6 L873.0,1101.7 L875.0,1104.0 L877.0,1106.6 L879.0,1109.4 L881.0,1112.4 L883.0,1115.6 L885.0,1118.9 L887.0,1122.4 L889.0,1125.9 L891.0,1129.6 L893.0,1133.3 L895.0,1137.0 L897.0,1140.8 L899.0,1144.6 L901.0,1148.3 L903.0,1152.1 L905.0,1155.8 L907.0,1159.3 L909.0,1162.9 L911.0,1166.3 L913.0,1169.6 L915.0,1172.8 L917.0,1176.0 L919.0,1179.0 L921.0,1181.9 L923.0,1184.7 L925.0,1187.5 L927.0,1190.1 L929.0,1192.6 L931.0,1195.0 L933.0,1197.2 L935.0,1199.4 L937.0,1201.4 L939.0,1203.2 L941.0,1205.0 L943.0,1206.5 L945.0,1208.0 L947.0,1209.4 L949.0,1210.7 L951.0,1212.0 L953.0,1213.1 L955.0,1214.2 L957.0,1215.3 L959.0,1216.3 L961.0,1217.3 L963.0,1218.3 L965.0,1219.2 L967.0,1220.2 L969.0,1221.0 L971.0,1221.9 L973.0,1222.8 L975.0,1223.6 L977.0,1224.5 L979.0,1225.3 L981.0,1226.2 L983.0,1227.0 L985.0,1227.9 L987.0,1228.7 L989.0,1229.6 L991.0,1230.4 L993.0,1231.3 L995.0,1232.2 L997.0,1233.1" stroke-width="4.2"/>
<path d="M817.0,1154.5 L819.0,1155.7 L821.0,1156.8 L823.0,1157.9 L825.0,1158.8 L827.0,1159.8 L829.0,1160.7 L831.0,1161.6 L833.0,1162.4 L835.0,1163.3 L837.0,1164.1 L839.0,1165.0 L841.0,1165.9 L843.0,1166.8 L845.0,1167.7 L847.0,1168.7 L849.0,1169.5 L851.0,1170.4 L853.0,1171.3 L855.0,1172.1 L857.0,1172.8 L859.0,1173.5 L861.0,1174.1 L863.0,1174.7 L865.0,1175.2 L867.0,1175.7 L869.0,1176.1 L871.0,1176.4 L873.0,1176.6 L875.0,1176.7 L877.0,1176.7 L879.0,1176.6 L881.0,1176.3 L883.0,1175.9 L885.0,1175.3 L887.0,1174.6 L889.0,1173.8 L891.0,1172.8 L893.0,1171.7 L895.0,1170.5 L897.0,1169.2 L899.0,1167.7 L901.0,1166.2 L903.0,1164.5 L905.0,1162.8 L907.0,1160.9 L909.0,1159.0 L911.0,1157.0 L913.0,1154.9 L915.0,1152.8 L917.0,1150.7 L919.0,1148.6 L921.0,1146.5 L923.0,1144.5 L925.0,1142.6 L927.0,1140.8 L929.0,1139.2 L931.0,1137.6 L933.0,1136.2 L935.0,1135.0 L937.0,1134.0 L939.0,1133.2 L941.0,1132.6 L943.0,1132.3 L945.0,1132.2 L947.0,1132.4 L949.0,1132.9 L951.0,1133.8 L953.0,1134.9 L955.0,1136.4 L957.0,1138.2 L959.0,1140.3 L961.0,1142.6 L963.0,1145.2 L965.0,1148.0 L967.0,1151.0 L969.0,1154.2 L971.0,1157.5 L973.0,1161.0 L975.0,1164.5 L977.0,1168.1 L979.0,1171.7 L981.0,1175.4 L983.0,1179.1 L985.0,1182.8 L987.0,1186.4 L989.0,1190.0 L991.0,1193.6 L993.0,1197.0 L995.0,1200.4 L997.0,1203.7 L999.0,1206.8 L1001.0,1209.9 L1003.0,1212.8 L1005.0,1215.6 L1007.0,1218.3 L1009.0,1220.8 L1011.0,1223.3 L1013.0,1225.7 L1015.0,1228.0 L1017.0,1230.2 L1019.0,1232.5 L1021.0,1234.7 L1023.0,1237.1 L1025.0,1239.4 L1027.0,1241.9 L1029.0,1244.3 L1031.0,1246.7 L1033.0,1249.1 L1035.0,1251.6 L1037.0,1254.1 L1039.0,1256.6 L1041.0,1259.1 L1043.0,1261.7 L1045.0,1264.4 L1047.0,1267.2 L1049.0,1269.9 L1051.0,1272.5 L1053.0,1275.0 L1055.0,1277.5 L1057.0,1279.9 L1059.0,1282.3 L1061.0,1284.9 L1063.0,1287.7 L1065.0,1290.6 L1067.0,1293.6 L1069.0,1296.8 L1071.0,1300.0 L1073.0,1303.4 L1075.0,1306.9 L1077.0,1310.5 L1079.0,1314.2" stroke-width="4.2"/>
<path d="M869.0,1181.8 L871.0,1182.8 L873.0,1183.8 L875.0,1184.7 L877.0,1185.6 L879.0,1186.5 L881.0,1187.4 L883.0,1188.2 L885.0,1188.9 L887.0,1189.7 L889.0,1190.4 L891.0,1191.1 L893.0,1191.8 L895.0,1192.5 L897.0,1193.2 L899.0,1193.9 L901.0,1194.7 L903.0,1195.4 L905.0,1196.1 L907.0,1196.8 L909.0,1197.5 L911.0,1198.2 L913.0,1198.9 L915.0,1199.6 L917.0,1200.3 L919.0,1201.0 L921.0,1201.7 L923.0,1202.5 L925.0,1203.2 L927.0,1204.0 L929.0,1204.8 L931.0,1205.6 L933.0,1206.3 L935.0,1207.0 L937.0,1207.7 L939.0,1208.3 L941.0,1208.8 L943.0,1209.2 L945.0,1209.7 L947.0,1210.0 L949.0,1210.3 L951.0,1210.6 L953.0,1210.8 L955.0,1210.9 L957.0,1211.0 L959.0,1211.0 L961.0,1211.0 L963.0,1210.9 L965.0,1210.7 L967.0,1210.4 L969.0,1210.0 L971.0,1209.5 L973.0,1208.8 L975.0,1208.1 L977.0,1207.1 L979.0,1206.1 L981.0,1204.9 L983.0,1203.5 L985.0,1201.9 L987.0,1200.1 L989.0,1198.2 L991.0,1196.0 L993.0,1193.6 L995.0,1191.0 L997.0,1188.1 L999.0,1185.0 L1001.0,1181.7 L1003.0,1178.2 L1005.0,1174.3 L1007.0,1170.3 L1009.0,1166.1 L1011.0,1161.7 L1013.0,1157.1 L1015.0,1152.5 L1017.0,1147.7 L1019.0,1143.0 L1021.0,1138.2 L1023.0,1133.7 L1025.0,1129.2 L1027.0,1124.9 L1029.0,1120.8 L1031.0,1116.9 L1033.0,1113.2 L1035.0,1109.9 L1037.0,1106.9 L1039.0,1104.4 L1041.0,1102.4 L1043.0,1100.9 L1045.0,1100.1 L1047.0,1100.0 L1049.0,1100.5 L1051.0,1101.5 L1053.0,1103.2 L1055.0,1105.5 L1057.0,1108.4 L1059.0,1112.1 L1061.0,1116.6 L1063.0,1121.9 L1065.0,1127.9 L1067.0,1134.6 L1069.0,1141.9 L1071.0,1149.7 L1073.0,1158.0 L1075.0,1166.7 L1077.0,1175.8 L1079.0,1185.2 L1081.0,1194.8 L1083.0,1204.6 L1085.0,1214.6 L1087.0,1224.9 L1089.0,1235.4 L1091.0,1246.1 L1093.0,1256.8 L1095.0,1267.6 L1097.0,1278.3 L1099.0,1288.8 L1101.0,1299.2 L1103.0,1309.3 L1105.0,1319.0 L1107.0,1328.5 L1109.0,1337.6 L1111.0,1346.6 L1113.0,1355.4 L1115.0,1363.9 L1117.0,1372.1 L1119.0,1380.2 L1121.0,1387.9 L1123.0,1395.5 L1125.0,1402.7 L1127.0,1409.7 L1129.0,1416.5 L1131.0,1423.2 L1133.0,1429.7 L1135.0,1435.9 L1137.0,1441.9 L1139.0,1447.5 L1141.0,1452.8 L1143.0,1458.0 L1145.0,1463.0 L1147.0,1467.7 L1149.0,1472.1 L1151.0,1476.2 L1153.0,1479.6 L1155.0,1482.7 L1157.0,1485.6 L1159.0,1488.3 L1161.0,1490.8 L1163.0,1493.1 L1165.0,1495.2 L1167.0,1497.2 L1169.0,1499.0 L1171.0,1500.6 L1173.0,1502.2 L1175.0,1503.6 L1177.0,1505.0 L1179.0,1506.3 L1181.0,1507.5 L1183.0,1508.7 L1185.0,1509.7 L1187.0,1510.7 L1189.0,1511.7 L1191.0,1512.5 L1193.0,1513.3 L1195.0,1514.1 L1197.0,1514.9 L1199.0,1515.6 L1201.0,1516.3 L1203.0,1516.9 L1205.0,1517.5 L1207.0,1518.1 L1209.0,1518.5" stroke-width="4.2"/>
<path d="M977.0,1225.2 L979.0,1225.8 L981.0,1226.4 L983.0,1227.0 L985.0,1227.5 L987.0,1228.1 L989.0,1228.7 L991.0,1229.2 L993.0,1229.7 L995.0,1230.2 L997.0,1230.7 L999.0,1231.1 L1001.0,1231.5 L1003.0,1231.8 L1005.0,1232.1 L1007.0,1232.2 L1009.0,1232.3 L1011.0,1232.3 L1013.0,1232.2 L1015.0,1232.1 L1017.0,1231.9 L1019.0,1231.6 L1021.0,1231.2 L1023.0,1230.8 L1025.0,1230.3 L1027.0,1229.7 L1029.0,1228.9 L1031.0,1227.8 L1033.0,1226.5 L1035.0,1224.9 L1037.0,1223.0 L1039.0,1220.8 L1041.0,1218.1 L1043.0,1215.0 L1045.0,1211.6 L1047.0,1207.6 L1049.0,1203.1 L1051.0,1197.9 L1053.0,1192.0 L1055.0,1185.3 L1057.0,1177.9 L1059.0,1169.9 L1061.0,1161.4 L1063.0,1152.3 L1065.0,1142.7 L1067.0,1132.6 L1069.0,1121.9 L1071.0,1110.7 L1073.0,1099.1 L1075.0,1087.0 L1077.0,1074.6 L1079.0,1061.9 L1081.0,1049.1 L1083.0,1036.1 L1085.0,1023.1 L1087.0,1010.3 L1089.0,998.0 L1091.0,986.0 L1093.0,974.6 L1095.0,963.8 L1097.0,953.7 L1099.0,944.4 L1101.0,936.0 L1103.0,928.6 L1105.0,922.2 L1107.0,917.0 L1109.0,913.2 L1111.0,910.9 L1113.0,910.3 L1115.0,911.4 L1117.0,914.3 L1119.0,918.9 L1121.0,925.3 L1123.0,933.3 L1125.0,943.1 L1127.0,954.5 L1129.0,967.4 L1131.0,981.8 L1133.0,997.6 L1135.0,1014.5 L1137.0,1032.4 L1139.0,1051.0 L1141.0,1070.2 L1143.0,1090.1 L1145.0,1110.5 L1147.0,1131.1 L1149.0,1151.7 L1151.0,1172.1 L1153.0,1192.1 L1155.0,1211.7 L1157.0,1230.9 L1159.0,1249.7 L1161.0,1268.0 L1163.0,1285.7 L1165.0,1302.8 L1167.0,1319.2 L1169.0,1334.8 L1171.0,1349.7 L1173.0,1363.8 L1175.0,1377.1 L1177.0,1389.7 L1179.0,1401.6 L1181.0,1412.6 L1183.0,1422.9 L1185.0,1432.5 L1187.0,1441.4 L1189.0,1449.5 L1191.0,1457.0 L1193.0,1463.9 L1195.0,1470.2 L1197.0,1475.9 L1199.0,1481.2 L1201.0,1486.0 L1203.0,1490.3 L1205.0,1494.2 L1207.0,1497.6 L1209.0,1500.7 L1211.0,1503.4 L1213.0,1505.8 L1215.0,1507.8 L1217.0,1509.6 L1219.0,1511.2 L1221.0,1512.7 L1223.0,1514.0 L1225.0,1515.1 L1227.0,1516.1 L1229.0,1517.0 L1231.0,1517.8 L1233.0,1518.5 L1235.0,1519.1 L1237.0,1519.7 L1239.0,1520.2" stroke-width="4.2"/>
<path d="M605.0,1024.9 L607.0,1024.3 L609.0,1023.7 L611.0,1023.0 L613.0,1022.2 L615.0,1021.4 L617.0,1020.4 L619.0,1019.4 L621.0,1018.3 L623.0,1017.0 L625.0,1015.7 L627.0,1014.2 L629.0,1012.6 L631.0,1010.9 L633.0,1009.1 L635.0,1007.2 L637.0,1005.1 L639.0,1002.9 L641.0,1000.6 L643.0,998.2 L645.0,995.6 L647.0,992.8 L649.0,990.0 L651.0,987.1 L653.0,984.0 L655.0,980.9 L657.0,977.6 L659.0,974.3 L661.0,971.0 L663.0,967.6 L665.0,964.2 L667.0,960.8 L669.0,957.4 L671.0,954.2 L673.0,951.0 L675.0,948.0 L677.0,944.9 L679.0,942.0 L681.0,939.1 L683.0,936.4 L685.0,933.8 L687.0,931.4 L689.0,929.2 L691.0,927.0 L693.0,925.0 L695.0,923.0 L697.0,921.0 L699.0,919.0 L701.0,917.0 L703.0,914.9 L705.0,912.8 L707.0,910.7 L709.0,908.4 L711.0,906.1 L713.0,903.6 L715.0,900.9 L717.0,898.1 L719.0,895.1 L721.0,891.9 L723.0,888.6 L725.0,885.1 L727.0,881.5 L729.0,877.8 L731.0,874.1 L733.0,870.3 L735.0,866.6 L737.0,862.9 L739.0,859.4 L741.0,856.1 L743.0,853.1 L745.0,850.4 L747.0,848.1 L749.0,846.3 L751.0,845.1 L753.0,844.3 L755.0,844.2 L757.0,844.7 L759.0,846.0 L761.0,847.9 L763.0,850.6 L765.0,854.2 L767.0,858.5 L769.0,863.6 L771.0,869.4 L773.0,875.9 L775.0,882.9 L777.0,890.4 L779.0,898.4 L781.0,906.7 L783.0,915.3 L785.0,924.2 L787.0,933.2 L789.0,942.4 L791.0,951.4 L793.0,960.3 L795.0,969.1 L797.0,977.7 L799.0,986.3 L801.0,994.6 L803.0,1002.6 L805.0,1010.4 L807.0,1017.8 L809.0,1024.8 L811.0,1031.4 L813.0,1037.6 L815.0,1043.3 L817.0,1048.4 L819.0,1053.1 L821.0,1057.3 L823.0,1060.9 L825.0,1064.1 L827.0,1066.8 L829.0,1069.1 L831.0,1071.0 L833.0,1072.6 L835.0,1073.8 L837.0,1074.8 L839.0,1075.5 L841.0,1076.1 L843.0,1076.5 L845.0,1076.9 L847.0,1077.1 L849.0,1077.3 L851.0,1077.5 L853.0,1077.7 L855.0,1077.9 L857.0,1078.3 L859.0,1078.7 L861.0,1079.3 L863.0,1080.1 L865.0,1081.0 L867.0,1082.1 L869.0,1083.5 L871.0,1085.0 L873.0,1086.6 L875.0,1088.4 L877.0,1090.4 L879.0,1092.4 L881.0,1094.4 L883.0,1096.5 L885.0,1098.6 L887.0,1100.7 L889.0,1102.8 L891.0,1104.8 L893.0,1106.7 L895.0,1108.6 L897.0,1110.3 L899.0,1111.9 L901.0,1113.4 L903.0,1114.7 L905.0,1115.8 L907.0,1116.8 L909.0,1117.6 L911.0,1118.2 L913.0,1118.7 L915.0,1119.0 L917.0,1119.1 L919.0,1119.2 L921.0,1119.1 L923.0,1119.0 L925.0,1118.8 L927.0,1118.6 L929.0,1118.4 L931.0,1118.2 L933.0,1118.0 L935.0,1117.9 L937.0,1117.8 L939.0,1117.8 L941.0,1117.9 L943.0,1118.2 L945.0,1118.6 L947.0,1119.2 L949.0,1120.0 L951.0,1121.0 L953.0,1122.2 L955.0,1123.6 L957.0,1125.1 L959.0,1126.9 L961.0,1128.7 L963.0,1130.8 L965.0,1132.8 L967.0,1135.0 L969.0,1137.2 L971.0,1139.3 L973.0,1141.5 L975.0,1143.5 L977.0,1145.5 L979.0,1147.3 L981.0,1149.0 L983.0,1150.5 L985.0,1151.7 L987.0,1152.7 L989.0,1153.3 L991.0,1153.7 L993.0,1153.7 L995.0,1153.4 L997.0,1152.7 L999.0,1151.7 L1001.0,1150.2 L1003.0,1148.3 L1005.0,1145.9 L1007.0,1143.1 L1009.0,1139.9 L1011.0,1136.4 L1013.0,1132.4 L1015.0,1128.1 L1017.0,1123.5 L1019.0,1118.5 L1021.0,1113.4 L1023.0,1108.0 L1025.0,1102.5 L1027.0,1096.8 L1029.0,1090.9 L1031.0,1084.8 L1033.0,1078.6 L1035.0,1072.3 L1037.0,1065.9 L1039.0,1059.5 L1041.0,1053.0 L1043.0,1046.6 L1045.0,1040.2 L1047.0,1033.9 L1049.0,1027.6 L1051.0,1021.3 L1053.0,1014.9 L1055.0,1008.4 L1057.0,1001.9 L1059.0,995.4 L1061.0,989.0 L1063.0,982.7 L1065.0,976.4 L1067.0,970.1 L1069.0,963.7 L1071.0,957.2 L1073.0,950.6 L1075.0,943.9 L1077.0,937.1 L1079.0,930.2 L1081.0,923.2 L1083.0,916.2 L1085.0,909.2 L1087.0,902.5 L1089.0,896.0 L1091.0,890.0 L1093.0,884.4 L1095.0,879.2 L1097.0,874.6 L1099.0,870.6 L1101.0,867.2 L1103.0,864.7 L1105.0,862.9 L1107.0,862.1 L1109.0,862.6 L1111.0,864.3 L1113.0,867.4 L1115.0,872.0 L1117.0,878.1 L1119.0,885.7 L1121.0,894.8 L1123.0,905.5 L1125.0,917.7 L1127.0,931.2 L1129.0,946.2 L1131.0,962.4 L1133.0,979.8 L1135.0,998.3 L1137.0,1017.5 L1139.0,1037.4 L1141.0,1057.8 L1143.0,1078.7 L1145.0,1099.9 L1147.0,1121.4 L1149.0,1142.7 L1151.0,1163.9 L1153.0,1184.5 L1155.0,1204.6 L1157.0,1224.3 L1159.0,1243.6 L1161.0,1262.3 L1163.0,1280.4 L1165.0,1297.8 L1167.0,1314.5 L1169.0,1330.4 L1171.0,1345.5 L1173.0,1359.9 L1175.0,1373.5 L1177.0,1386.3 L1179.0,1398.3 L1181.0,1409.5 L1183.0,1420.0 L1185.0,1429.8 L1187.0,1438.8 L1189.0,1447.1 L1191.0,1454.7 L1193.0,1461.7 L1195.0,1468.1 L1197.0,1474.0 L1199.0,1479.4 L1201.0,1484.3 L1203.0,1488.7 L1205.0,1492.7 L1207.0,1496.3 L1209.0,1499.4 L1211.0,1502.2 L1213.0,1504.7 L1215.0,1506.8 L1217.0,1508.7 L1219.0,1510.4 L1221.0,1511.9 L1223.0,1513.3 L1225.0,1514.5 L1227.0,1515.6 L1229.0,1516.5 L1231.0,1517.4 L1233.0,1518.2 L1235.0,1518.9 L1237.0,1519.5 L1239.0,1520.1 L1241.0,1520.6 L1243.0,1521.0 L1244.4,1521.3" stroke-width="4.7"/>
<path d="M508.0,680.7 L510.0,680.8 L512.0,681.0 L514.0,681.1 L516.0,681.2 L518.0,681.4 L520.0,681.5 L522.0,681.6 L524.0,681.8 L526.0,681.9 L528.0,682.1 L530.0,682.2 L532.0,682.4 L534.0,682.5 L536.0,682.7 L538.0,682.9 L540.0,683.0 L542.0,683.2 L544.0,683.4 L546.0,683.5 L548.0,683.7 L550.0,683.9 L552.0,684.0 L554.0,684.2 L556.0,684.4 L558.0,684.6 L560.0,684.8 L562.0,685.0 L564.0,685.1 L566.0,685.3 L568.0,685.5 L570.0,685.7 L572.0,685.9 L574.0,686.1 L576.0,686.3 L578.0,686.5 L580.0,686.7 L582.0,686.9 L584.0,687.1 L586.0,687.3 L588.0,687.5 L590.0,687.7 L592.0,687.9 L594.0,688.2 L596.0,688.4 L598.0,688.6 L600.0,688.8 L602.0,689.0 L604.0,689.2 L606.0,689.5 L608.0,689.7 L610.0,689.9 L612.0,690.1 L614.0,690.3 L616.0,690.6 L618.0,690.8 L620.0,691.0 L622.0,691.3 L624.0,691.5 L626.0,691.7 L628.0,692.0 L630.0,692.2 L632.0,692.4 L634.0,692.7 L636.0,692.9 L638.0,693.1 L640.0,693.4 L642.0,693.6 L644.0,693.9 L646.0,694.1 L648.0,694.3 L650.0,694.6 L652.0,694.8 L654.0,695.1 L656.0,695.3 L658.0,695.6 L660.0,695.8 L662.0,696.0 L664.0,696.3 L666.0,696.5 L668.0,696.8 L670.0,697.0 L672.0,697.3 L674.0,697.5 L676.0,697.8 L678.0,698.1 L680.0,698.3 L682.0,698.6 L684.0,698.9 L686.0,699.1 L688.0,699.4 L690.0,699.7 L692.0,700.0 L694.0,700.3 L696.0,700.6 L698.0,700.9 L700.0,701.2 L702.0,701.5 L704.0,701.9 L706.0,702.2 L708.0,702.5 L710.0,702.9 L712.0,703.3 L714.0,703.6 L716.0,704.0 L718.0,704.4 L720.0,704.8 L722.0,705.2 L724.0,705.7 L726.0,706.2 L728.0,706.7 L730.0,707.2 L732.0,707.8 L734.0,708.4 L736.0,709.0 L738.0,709.7 L740.0,710.4 L742.0,711.0 L744.0,711.7 L746.0,712.4 L748.0,713.1 L750.0,713.8 L752.0,714.5 L754.0,715.2 L756.0,716.0 L758.0,716.7 L760.0,717.4 L762.0,718.0 L764.0,718.7 L766.0,719.4 L768.0,720.0 L770.0,720.7 L772.0,721.3 L774.0,721.9 L776.0,722.4 L778.0,723.0 L780.0,723.5 L782.0,723.9 L784.0,724.4 L786.0,724.9 L788.0,725.4 L790.0,725.9 L792.0,726.4 L794.0,726.9 L796.0,727.3 L798.0,727.8 L800.0,728.3 L802.0,728.7 L804.0,729.2 L806.0,729.6 L808.0,730.0 L810.0,730.4 L812.0,730.8 L814.0,731.1 L816.0,731.4 L818.0,731.7 L820.0,731.9 L822.0,732.1 L824.0,732.3 L826.0,732.4 L828.0,732.5 L830.0,732.6 L832.0,732.7 L834.0,732.8 L836.0,732.8 L838.0,732.9 L840.0,732.9 L842.0,733.0 L844.0,733.1 L846.0,733.1 L848.0,733.1 L850.0,733.2 L852.0,733.2 L854.0,733.3 L856.0,733.3 L858.0,733.3 L860.0,733.4 L862.0,733.4 L864.0,733.5 L866.0,733.5 L868.0,733.6 L870.0,733.6 L872.0,733.7 L874.0,733.8 L876.0,733.8 L878.0,733.9 L880.0,734.0 L882.0,734.1 L884.0,734.2 L886.0,734.3 L888.0,734.5 L890.0,734.6 L892.0,734.8 L894.0,735.0 L896.0,735.2 L898.0,735.4 L900.0,735.6 L902.0,735.8 L904.0,736.0 L906.0,736.2 L908.0,736.5 L910.0,736.8 L912.0,737.0 L914.0,737.3 L916.0,737.6 L918.0,737.9 L920.0,738.1 L922.0,738.4 L924.0,738.7 L926.0,739.1 L928.0,739.4 L930.0,739.7 L932.0,740.0 L934.0,740.3 L936.0,740.7 L938.0,741.0 L940.0,741.3 L942.0,741.7 L944.0,742.0 L946.0,742.3 L948.0,742.7 L950.0,743.0 L952.0,743.4 L954.0,743.7 L956.0,744.0 L958.0,744.4 L960.0,744.7 L962.0,745.1 L964.0,745.4 L966.0,745.7 L968.0,746.0 L970.0,746.4 L972.0,746.7 L974.0,747.0 L976.0,747.3 L978.0,747.6 L980.0,747.9 L982.0,748.2 L984.0,748.5 L986.0,748.8 L988.0,749.0 L990.0,749.3 L992.0,749.6 L994.0,749.9 L996.0,750.2 L998.0,750.4 L1000.0,750.7 L1002.0,751.0 L1004.0,751.3 L1006.0,751.5 L1008.0,751.8 L1010.0,752.1 L1012.0,752.4 L1014.0,752.7 L1016.0,753.1 L1018.0,753.4 L1020.0,753.7 L1022.0,754.0 L1024.0,754.4 L1026.0,754.8 L1028.0,755.1 L1030.0,755.5 L1032.0,755.9 L1034.0,756.3 L1036.0,756.7 L1038.0,757.2 L1040.0,757.6 L1042.0,758.1 L1044.0,758.6 L1046.0,759.1 L1048.0,759.6 L1050.0,760.1 L1052.0,760.7 L1054.0,761.3 L1056.0,762.0 L1058.0,762.8 L1060.0,763.6 L1062.0,764.6 L1064.0,765.6 L1066.0,766.8 L1068.0,767.9 L1070.0,769.2 L1072.0,770.5 L1074.0,771.8 L1076.0,773.2 L1078.0,774.6 L1080.0,776.1 L1082.0,777.6 L1084.0,779.1 L1086.0,780.6 L1088.0,782.1 L1090.0,783.6 L1092.0,785.1 L1094.0,786.6 L1096.0,788.1 L1098.0,789.6 L1100.0,791.0 L1102.0,792.4 L1104.0,794.0 L1106.0,795.5 L1108.0,797.1 L1110.0,798.7 L1112.0,800.4 L1114.0,802.0 L1116.0,803.7 L1118.0,805.4 L1120.0,807.0 L1122.0,808.6 L1124.0,810.2 L1126.0,811.7 L1128.0,813.2 L1130.0,814.7 L1132.0,816.0 L1134.0,817.3 L1136.0,818.7 L1138.0,820.0 L1140.0,821.3 L1142.0,822.6 L1144.0,823.9 L1146.0,825.2 L1148.0,826.4 L1150.0,827.6 L1152.0,828.7 L1154.0,829.8 L1156.0,830.8 L1158.0,831.7 L1160.0,832.5 L1162.0,833.2 L1164.0,833.8 L1166.0,834.4 L1168.0,835.0 L1170.0,835.6 L1172.0,836.2 L1174.0,836.7 L1176.0,837.2 L1178.0,837.8 L1180.0,838.2 L1182.0,838.7 L1184.0,839.1 L1186.0,839.5 L1188.0,839.8 L1190.0,840.1 L1192.0,840.4 L1194.0,840.6 L1196.0,840.7 L1198.0,840.8 L1199.0,840.8" stroke-width="4.4"/>
<path d="M520.0,680.4 L522.0,680.3 L524.0,680.1 L526.0,680.0 L528.0,679.7 L530.0,679.5 L532.0,679.2 L534.0,678.9 L536.0,678.5 L538.0,678.1 L540.0,677.7 L542.0,677.2 L544.0,676.7 L546.0,676.2 L548.0,675.6 L550.0,675.0 L552.0,674.3 L554.0,673.7 L556.0,673.0 L558.0,672.3 L560.0,671.6 L562.0,671.0 L564.0,670.3 L566.0,669.6 L568.0,669.0 L570.0,668.5 L572.0,667.9 L574.0,667.5 L576.0,667.0 L578.0,666.7 L580.0,666.5 L582.0,666.3 L584.0,666.3 L586.0,666.3 L588.0,666.5 L590.0,666.7 L592.0,667.1 L594.0,667.6 L596.0,668.1 L598.0,668.8 L600.0,669.5 L602.0,670.3 L604.0,671.2 L606.0,672.1 L608.0,673.1 L610.0,674.1 L612.0,675.2 L614.0,676.3 L616.0,677.4 L618.0,678.4 L620.0,679.5 L622.0,680.6 L624.0,681.7 L626.0,682.7 L628.0,683.7 L630.0,684.7 L632.0,685.6 L634.0,686.5 L636.0,687.4 L638.0,688.2 L640.0,689.0 L642.0,689.8 L644.0,690.5 L646.0,691.2 L648.0,691.8 L650.0,692.4 L652.0,693.0 L654.0,693.5 L656.0,694.0 L658.0,694.5" stroke-width="4.2"/>
<path d="M624.0,690.4 L626.0,690.5 L628.0,690.5 L630.0,690.5 L632.0,690.5 L634.0,690.5 L636.0,690.4 L638.0,690.2 L640.0,690.0 L642.0,689.7 L644.0,689.4 L646.0,689.1 L648.0,688.6 L650.0,688.1 L652.0,687.5 L654.0,686.9 L656.0,686.2 L658.0,685.5 L660.0,684.7 L662.0,683.9 L664.0,683.0 L666.0,682.1 L668.0,681.3 L670.0,680.4 L672.0,679.5 L674.0,678.7 L676.0,678.0 L678.0,677.3 L680.0,676.7 L682.0,676.3 L684.0,675.9 L686.0,675.7 L688.0,675.7 L690.0,675.8 L692.0,676.1 L694.0,676.5 L696.0,677.2 L698.0,678.0 L700.0,678.9 L702.0,679.9 L704.0,681.1 L706.0,682.4 L708.0,683.7 L710.0,685.1 L712.0,686.6 L714.0,688.1 L716.0,689.6 L718.0,691.1 L720.0,692.6 L722.0,694.1 L724.0,695.6 L726.0,697.1 L728.0,698.5 L730.0,700.0 L732.0,701.3 L734.0,702.7 L736.0,704.0 L738.0,705.3 L740.0,706.5 L742.0,707.6 L744.0,708.8 L746.0,709.9 L748.0,710.9 L750.0,711.9 L752.0,712.9 L754.0,713.8 L756.0,714.7 L758.0,715.6" stroke-width="4.2"/>
<path d="M672.0,696.2 L674.0,696.3 L676.0,696.4 L678.0,696.5 L680.0,696.6 L682.0,696.7 L684.0,696.7 L686.0,696.7 L688.0,696.6 L690.0,696.5 L692.0,696.3 L694.0,696.0 L696.0,695.7 L698.0,695.2 L700.0,694.7 L702.0,694.0 L704.0,693.2 L706.0,692.3 L708.0,691.2 L710.0,690.0 L712.0,688.6 L714.0,687.1 L716.0,685.4 L718.0,683.5 L720.0,681.5 L722.0,679.4 L724.0,677.2 L726.0,674.9 L728.0,672.5 L730.0,670.1 L732.0,667.7 L734.0,665.4 L736.0,663.1 L738.0,660.9 L740.0,658.9 L742.0,657.0 L744.0,655.4 L746.0,654.1 L748.0,653.1 L750.0,652.5 L752.0,652.3 L754.0,652.5 L756.0,653.1 L758.0,654.1 L760.0,655.5 L762.0,657.4 L764.0,659.6 L766.0,662.1 L768.0,664.9 L770.0,667.9 L772.0,671.1 L774.0,674.5 L776.0,677.9 L778.0,681.4 L780.0,684.8 L782.0,688.3 L784.0,691.7 L786.0,695.0 L788.0,698.2 L790.0,701.3 L792.0,704.3 L794.0,707.1 L796.0,709.8 L798.0,712.2 L800.0,714.5 L802.0,716.6 L804.0,718.6 L806.0,720.3 L808.0,721.9 L810.0,723.4 L812.0,724.7 L814.0,725.8 L816.0,726.8 L818.0,727.7 L820.0,728.4 L822.0,729.1 L824.0,729.6 L826.0,730.1 L828.0,730.5 L830.0,730.8 L832.0,731.1 L834.0,731.3 L836.0,731.5 L838.0,731.7 L840.0,731.8" stroke-width="4.2"/>
<path d="M734.0,707.4 L736.0,707.8 L738.0,708.3 L740.0,708.8 L742.0,709.3 L744.0,709.7 L746.0,710.1 L748.0,710.5 L750.0,710.9 L752.0,711.3 L754.0,711.6 L756.0,711.8 L758.0,712.1 L760.0,712.2 L762.0,712.4 L764.0,712.5 L766.0,712.5 L768.0,712.5 L770.0,712.4 L772.0,712.3 L774.0,712.2 L776.0,712.0 L778.0,711.8 L780.0,711.5 L782.0,711.2 L784.0,711.0 L786.0,710.7 L788.0,710.6 L790.0,710.4 L792.0,710.3 L794.0,710.3 L796.0,710.3 L798.0,710.4 L800.0,710.6 L802.0,710.9 L804.0,711.2 L806.0,711.6 L808.0,712.2 L810.0,712.7 L812.0,713.4 L814.0,714.1 L816.0,714.8 L818.0,715.6 L820.0,716.4 L822.0,717.3 L824.0,718.1 L826.0,719.0 L828.0,719.8 L830.0,720.6 L832.0,721.5 L834.0,722.3 L836.0,723.1 L838.0,723.9 L840.0,724.7 L842.0,725.4 L844.0,726.2 L846.0,726.8 L848.0,727.5 L850.0,728.1 L852.0,728.6 L854.0,729.1 L856.0,729.6 L858.0,730.1 L860.0,730.5 L862.0,730.8 L864.0,731.2 L866.0,731.5 L868.0,731.8 L870.0,732.1 L872.0,732.3 L874.0,732.5 L876.0,732.8" stroke-width="4.2"/>
<path d="M870.0,732.5 L872.0,732.4 L874.0,732.3 L876.0,732.2 L878.0,732.0 L880.0,731.7 L882.0,731.5 L884.0,731.1 L886.0,730.7 L888.0,730.2 L890.0,729.6 L892.0,728.9 L894.0,728.1 L896.0,727.2 L898.0,726.1 L900.0,724.9 L902.0,723.5 L904.0,722.0 L906.0,720.3 L908.0,718.6 L910.0,716.7 L912.0,714.7 L914.0,712.6 L916.0,710.5 L918.0,708.4 L920.0,706.3 L922.0,704.2 L924.0,702.3 L926.0,700.6 L928.0,699.0 L930.0,697.8 L932.0,696.8 L934.0,696.2 L936.0,695.9 L938.0,696.0 L940.0,696.6 L942.0,697.5 L944.0,698.8 L946.0,700.4 L948.0,702.4 L950.0,704.6 L952.0,707.0 L954.0,709.5 L956.0,712.2 L958.0,714.9 L960.0,717.7 L962.0,720.4 L964.0,723.1 L966.0,725.6 L968.0,728.1 L970.0,730.5 L972.0,732.7 L974.0,734.7 L976.0,736.6 L978.0,738.3 L980.0,739.9 L982.0,741.3 L984.0,742.6 L986.0,743.8 L988.0,744.8 L990.0,745.7 L992.0,746.5 L994.0,747.2 L996.0,747.9 L998.0,748.5 L1000.0,749.0 L1002.0,749.5 L1004.0,750.0 L1006.0,750.4" stroke-width="4.2"/>
<path d="M942.0,740.6 L944.0,740.8 L946.0,740.9 L948.0,741.0 L950.0,741.0 L952.0,740.9 L954.0,740.8 L956.0,740.6 L958.0,740.2 L960.0,739.8 L962.0,739.3 L964.0,738.7 L966.0,738.0 L968.0,737.2 L970.0,736.2 L972.0,735.2 L974.0,734.1 L976.0,733.0 L978.0,731.8 L980.0,730.7 L982.0,729.5 L984.0,728.4 L986.0,727.5 L988.0,726.6 L990.0,725.9 L992.0,725.5 L994.0,725.2 L996.0,725.2 L998.0,725.5 L1000.0,726.0 L1002.0,726.8 L1004.0,727.9 L1006.0,729.1 L1008.0,730.5 L1010.0,732.1 L1012.0,733.8 L1014.0,735.5 L1016.0,737.3 L1018.0,739.1 L1020.0,740.9 L1022.0,742.6 L1024.0,744.3 L1026.0,745.9 L1028.0,747.4 L1030.0,748.8 L1032.0,750.2 L1034.0,751.4 L1036.0,752.6 L1038.0,753.7 L1040.0,754.7 L1042.0,755.6 L1044.0,756.5 L1046.0,757.4 L1048.0,758.2 L1050.0,758.9 L1052.0,759.7" stroke-width="4.2"/>
<path d="M1000.0,749.5 L1002.0,749.6 L1004.0,749.7 L1006.0,749.7 L1008.0,749.6 L1010.0,749.5 L1012.0,749.3 L1014.0,749.0 L1016.0,748.5 L1018.0,748.0 L1020.0,747.2 L1022.0,746.3 L1024.0,745.2 L1026.0,743.9 L1028.0,742.4 L1030.0,740.7 L1032.0,738.7 L1034.0,736.5 L1036.0,734.2 L1038.0,731.6 L1040.0,728.9 L1042.0,726.2 L1044.0,723.4 L1046.0,720.6 L1048.0,717.9 L1050.0,715.4 L1052.0,713.1 L1054.0,711.2 L1056.0,709.7 L1058.0,708.8 L1060.0,708.5 L1062.0,708.9 L1064.0,709.9 L1066.0,711.6 L1068.0,714.0 L1070.0,716.9 L1072.0,720.3 L1074.0,724.2 L1076.0,728.4 L1078.0,732.9 L1080.0,737.6 L1082.0,742.4 L1084.0,747.2 L1086.0,751.9 L1088.0,756.6 L1090.0,761.1 L1092.0,765.4 L1094.0,769.4 L1096.0,773.3 L1098.0,776.9 L1100.0,780.2 L1102.0,783.3 L1104.0,786.3 L1106.0,789.1 L1108.0,791.7 L1110.0,794.3 L1112.0,796.7 L1114.0,798.9 L1116.0,801.1 L1118.0,803.2 L1120.0,805.2 L1122.0,807.1 L1124.0,808.9 L1126.0,810.6" stroke-width="4.2"/>
<path d="M1030.0,754.5 L1032.0,754.7 L1034.0,754.9 L1036.0,755.0 L1038.0,755.1 L1040.0,755.2 L1042.0,755.2 L1044.0,755.1 L1046.0,754.9 L1048.0,754.6 L1050.0,754.2 L1052.0,753.5 L1054.0,752.7 L1056.0,751.7 L1058.0,750.4 L1060.0,749.0 L1062.0,747.2 L1064.0,745.1 L1066.0,742.6 L1068.0,739.7 L1070.0,736.3 L1072.0,732.5 L1074.0,728.2 L1076.0,723.4 L1078.0,718.1 L1080.0,712.4 L1082.0,706.3 L1084.0,699.8 L1086.0,693.1 L1088.0,686.2 L1090.0,679.2 L1092.0,672.3 L1094.0,665.6 L1096.0,659.3 L1098.0,653.5 L1100.0,648.3 L1102.0,644.0 L1104.0,640.7 L1106.0,638.7 L1108.0,638.0 L1110.0,638.6 L1112.0,640.6 L1114.0,643.9 L1116.0,648.6 L1118.0,654.4 L1120.0,661.3 L1122.0,669.2 L1124.0,677.7 L1126.0,686.9 L1128.0,696.4 L1130.0,706.2 L1132.0,716.0 L1134.0,725.8 L1136.0,735.5 L1138.0,744.9 L1140.0,754.1 L1142.0,762.8 L1144.0,771.0 L1146.0,778.7 L1148.0,785.9 L1150.0,792.5 L1152.0,798.5 L1154.0,803.9 L1156.0,808.7 L1158.0,813.0 L1160.0,816.8 L1162.0,820.0 L1164.0,822.8 L1166.0,825.3 L1168.0,827.5 L1170.0,829.4 L1172.0,831.0 L1174.0,832.5 L1176.0,833.8 L1178.0,835.0 L1180.0,836.0 L1182.0,836.9 L1184.0,837.7 L1186.0,838.4" stroke-width="4.2"/>
<path d="M1104.0,793.6 L1106.0,794.2 L1108.0,794.7 L1110.0,795.1 L1112.0,795.3 L1114.0,795.4 L1116.0,795.4 L1118.0,795.1 L1120.0,794.7 L1122.0,794.1 L1124.0,793.3 L1126.0,792.3 L1128.0,791.2 L1130.0,790.0 L1132.0,788.7 L1134.0,787.4 L1136.0,786.1 L1138.0,785.0 L1140.0,784.1 L1142.0,783.4 L1144.0,782.9 L1146.0,782.7 L1148.0,782.9 L1150.0,783.5 L1152.0,784.4 L1154.0,785.7 L1156.0,787.3 L1158.0,789.3 L1160.0,791.6 L1162.0,794.1 L1164.0,796.8 L1166.0,799.7 L1168.0,802.8 L1170.0,805.9 L1172.0,809.2 L1174.0,812.4 L1176.0,815.7 L1178.0,818.8 L1180.0,821.8 L1182.0,824.7 L1184.0,827.3 L1186.0,829.8 L1188.0,832.1 L1190.0,834.2 L1192.0,836.0 L1194.0,837.7 L1196.0,839.1 L1198.0,840.3" stroke-width="4.2"/>
<path d="M508.0,680.7 L510.0,680.7 L512.0,680.7 L514.0,680.6 L516.0,680.6 L518.0,680.5 L520.0,680.4 L522.0,680.3 L524.0,680.1 L526.0,679.9 L528.0,679.7 L530.0,679.4 L532.0,679.1 L534.0,678.8 L536.0,678.4 L538.0,678.0 L540.0,677.6 L542.0,677.1 L544.0,676.6 L546.0,676.0 L548.0,675.4 L550.0,674.8 L552.0,674.2 L554.0,673.5 L556.0,672.8 L558.0,672.1 L560.0,671.4 L562.0,670.8 L564.0,670.1 L566.0,669.4 L568.0,668.8 L570.0,668.2 L572.0,667.7 L574.0,667.2 L576.0,666.8 L578.0,666.4 L580.0,666.2 L582.0,666.0 L584.0,665.9 L586.0,665.9 L588.0,666.1 L590.0,666.3 L592.0,666.7 L594.0,667.1 L596.0,667.6 L598.0,668.3 L600.0,669.0 L602.0,669.7 L604.0,670.6 L606.0,671.5 L608.0,672.4 L610.0,673.4 L612.0,674.4 L614.0,675.4 L616.0,676.4 L618.0,677.4 L620.0,678.3 L622.0,679.3 L624.0,680.2 L626.0,681.0 L628.0,681.8 L630.0,682.6 L632.0,683.3 L634.0,683.9 L636.0,684.4 L638.0,684.8 L640.0,685.1 L642.0,685.3 L644.0,685.5 L646.0,685.5 L648.0,685.4 L650.0,685.3 L652.0,685.0 L654.0,684.6 L656.0,684.2 L658.0,683.6 L660.0,683.0 L662.0,682.3 L664.0,681.5 L666.0,680.7 L668.0,679.9 L670.0,679.1 L672.0,678.2 L674.0,677.3 L676.0,676.4 L678.0,675.6 L680.0,674.8 L682.0,674.2 L684.0,673.6 L686.0,673.1 L688.0,672.7 L690.0,672.4 L692.0,672.2 L694.0,672.1 L696.0,672.0 L698.0,672.0 L700.0,672.1 L702.0,672.1 L704.0,672.2 L706.0,672.2 L708.0,672.1 L710.0,671.9 L712.0,671.6 L714.0,671.1 L716.0,670.5 L718.0,669.8 L720.0,668.8 L722.0,667.7 L724.0,666.4 L726.0,665.1 L728.0,663.5 L730.0,661.9 L732.0,660.2 L734.0,658.5 L736.0,656.7 L738.0,655.0 L740.0,653.3 L742.0,651.8 L744.0,650.4 L746.0,649.2 L748.0,648.3 L750.0,647.6 L752.0,647.2 L754.0,647.2 L756.0,647.6 L758.0,648.3 L760.0,649.4 L762.0,650.7 L764.0,652.4 L766.0,654.4 L768.0,656.6 L770.0,659.0 L772.0,661.6 L774.0,664.2 L776.0,666.9 L778.0,669.7 L780.0,672.4 L782.0,675.1 L784.0,677.8 L786.0,680.4 L788.0,683.0 L790.0,685.4 L792.0,687.8 L794.0,690.1 L796.0,692.3 L798.0,694.4 L800.0,696.5 L802.0,698.4 L804.0,700.2 L806.0,702.0 L808.0,703.7 L810.0,705.3 L812.0,706.9 L814.0,708.4 L816.0,709.8 L818.0,711.2 L820.0,712.6 L822.0,713.8 L824.0,715.0 L826.0,716.2 L828.0,717.3 L830.0,718.3 L832.0,719.4 L834.0,720.4 L836.0,721.3 L838.0,722.2 L840.0,723.1 L842.0,723.9 L844.0,724.6 L846.0,725.3 L848.0,726.0 L850.0,726.6 L852.0,727.2 L854.0,727.7 L856.0,728.2 L858.0,728.6 L860.0,729.0 L862.0,729.4 L864.0,729.7 L866.0,729.9 L868.0,730.1 L870.0,730.3 L872.0,730.4 L874.0,730.5 L876.0,730.5 L878.0,730.4 L880.0,730.3 L882.0,730.2 L884.0,729.9 L886.0,729.6 L888.0,729.1 L890.0,728.6 L892.0,728.0 L894.0,727.2 L896.0,726.3 L898.0,725.2 L900.0,724.0 L902.0,722.7 L904.0,721.2 L906.0,719.6 L908.0,717.8 L910.0,715.9 L912.0,713.9 L914.0,711.8 L916.0,709.7 L918.0,707.6 L920.0,705.5 L922.0,703.4 L924.0,701.5 L926.0,699.7 L928.0,698.2 L930.0,696.9 L932.0,695.8 L934.0,695.2 L936.0,694.8 L938.0,694.9 L940.0,695.3 L942.0,696.0 L944.0,697.1 L946.0,698.5 L948.0,700.2 L950.0,702.1 L952.0,704.0 L954.0,706.1 L956.0,708.2 L958.0,710.3 L960.0,712.3 L962.0,714.2 L964.0,715.9 L966.0,717.4 L968.0,718.7 L970.0,719.8 L972.0,720.7 L974.0,721.3 L976.0,721.7 L978.0,722.0 L980.0,722.1 L982.0,722.0 L984.0,721.9 L986.0,721.7 L988.0,721.6 L990.0,721.5 L992.0,721.5 L994.0,721.6 L996.0,721.9 L998.0,722.4 L1000.0,723.1 L1002.0,723.9 L1004.0,724.9 L1006.0,726.0 L1008.0,727.2 L1010.0,728.4 L1012.0,729.6 L1014.0,730.7 L1016.0,731.7 L1018.0,732.6 L1020.0,733.3 L1022.0,733.7 L1024.0,733.9 L1026.0,733.7 L1028.0,733.2 L1030.0,732.4 L1032.0,731.2 L1034.0,729.7 L1036.0,727.8 L1038.0,725.7 L1040.0,723.2 L1042.0,720.4 L1044.0,717.5 L1046.0,714.3 L1048.0,711.1 L1050.0,707.8 L1052.0,704.5 L1054.0,701.3 L1056.0,698.3 L1058.0,695.5 L1060.0,693.0 L1062.0,690.7 L1064.0,688.6 L1066.0,686.8 L1068.0,685.1 L1070.0,683.5 L1072.0,681.8 L1074.0,680.1 L1076.0,678.1 L1078.0,676.0 L1080.0,673.5 L1082.0,670.7 L1084.0,667.5 L1086.0,664.0 L1088.0,660.3 L1090.0,656.3 L1092.0,652.2 L1094.0,648.1 L1096.0,644.2 L1098.0,640.5 L1100.0,637.2 L1102.0,634.6 L1104.0,632.4 L1106.0,630.7 L1108.0,630.0 L1110.0,630.2 L1112.0,631.6 L1114.0,634.0 L1116.0,637.5 L1118.0,641.8 L1120.0,647.0 L1122.0,652.9 L1124.0,659.3 L1126.0,666.1 L1128.0,673.2 L1130.0,680.5 L1132.0,687.8 L1134.0,695.0 L1136.0,702.2 L1138.0,709.3 L1140.0,716.2 L1142.0,722.9 L1144.0,729.5 L1146.0,735.8 L1148.0,741.9 L1150.0,747.9 L1152.0,753.7 L1154.0,759.4 L1156.0,765.0 L1158.0,770.3 L1160.0,775.6 L1162.0,780.6 L1164.0,785.5 L1166.0,790.3 L1168.0,795.0 L1170.0,799.5 L1172.0,803.9 L1174.0,808.1 L1176.0,812.1 L1178.0,815.9 L1180.0,819.4 L1182.0,822.7 L1184.0,825.8 L1186.0,828.6 L1188.0,831.2 L1190.0,833.5 L1192.0,835.5 L1194.0,837.3 L1196.0,838.9 L1198.0,840.2 L1199.0,840.8" stroke-width="4.7"/>
<path d="M559.0,519.5 L561.0,519.6 L563.0,519.7 L565.0,519.8 L567.0,519.8 L569.0,519.9 L571.0,520.0 L573.0,520.1 L575.0,520.2 L577.0,520.3 L579.0,520.4 L581.0,520.6 L583.0,520.7 L585.0,520.8 L587.0,520.9 L589.0,521.0 L591.0,521.1 L593.0,521.3 L595.0,521.4 L597.0,521.5 L599.0,521.7 L601.0,521.8 L603.0,521.9 L605.0,522.1 L607.0,522.2 L609.0,522.3 L611.0,522.5 L613.0,522.6 L615.0,522.8 L617.0,522.9 L619.0,523.1 L621.0,523.2 L623.0,523.4 L625.0,523.5 L627.0,523.7 L629.0,523.9 L631.0,524.0 L633.0,524.2 L635.0,524.3 L637.0,524.5 L639.0,524.7 L641.0,524.8 L643.0,525.0 L645.0,525.2 L647.0,525.3 L649.0,525.5 L651.0,525.7 L653.0,525.9 L655.0,526.1 L657.0,526.2 L659.0,526.4 L661.0,526.6 L663.0,526.8 L665.0,527.0 L667.0,527.3 L669.0,527.5 L671.0,527.7 L673.0,527.9 L675.0,528.1 L677.0,528.4 L679.0,528.6 L681.0,528.9 L683.0,529.1 L685.0,529.4 L687.0,529.6 L689.0,529.9 L691.0,530.1 L693.0,530.4 L695.0,530.7 L697.0,531.0 L699.0,531.3 L701.0,531.6 L703.0,532.0 L705.0,532.3 L707.0,532.7 L709.0,533.0 L711.0,533.4 L713.0,533.8 L715.0,534.2 L717.0,534.6 L719.0,535.0 L721.0,535.4 L723.0,535.8 L725.0,536.2 L727.0,536.6 L729.0,537.0 L731.0,537.4 L733.0,537.9 L735.0,538.3 L737.0,538.7 L739.0,539.1 L741.0,539.6 L743.0,540.0 L745.0,540.4 L747.0,540.9 L749.0,541.3 L751.0,541.7 L753.0,542.1 L755.0,542.5 L757.0,543.0 L759.0,543.4 L761.0,543.8 L763.0,544.2 L765.0,544.6 L767.0,545.0 L769.0,545.3 L771.0,545.7 L773.0,546.1 L775.0,546.4 L777.0,546.8 L779.0,547.1 L781.0,547.5 L783.0,547.8 L785.0,548.1 L787.0,548.4 L789.0,548.8 L791.0,549.1 L793.0,549.4 L795.0,549.7 L797.0,550.0 L799.0,550.3 L801.0,550.7 L803.0,551.0 L805.0,551.3 L807.0,551.6 L809.0,551.9 L811.0,552.2 L813.0,552.5 L815.0,552.7 L817.0,553.0 L819.0,553.3 L821.0,553.6 L823.0,553.9 L825.0,554.2 L827.0,554.4 L829.0,554.7 L831.0,555.0 L833.0,555.3 L835.0,555.5 L837.0,555.8 L839.0,556.0 L841.0,556.3 L843.0,556.6 L845.0,556.8 L847.0,557.0 L849.0,557.3 L851.0,557.5 L853.0,557.8 L855.0,558.0 L857.0,558.2 L859.0,558.4 L861.0,558.6 L863.0,558.9 L865.0,559.1 L867.0,559.3 L869.0,559.5 L871.0,559.7 L873.0,559.9 L875.0,560.2 L877.0,560.4 L879.0,560.6 L881.0,560.8 L883.0,561.0 L885.0,561.2 L887.0,561.5 L889.0,561.7 L891.0,561.9 L893.0,562.2 L895.0,562.4 L897.0,562.6 L899.0,562.9 L901.0,563.1 L903.0,563.4 L905.0,563.6 L907.0,563.9 L909.0,564.1 L911.0,564.4 L913.0,564.6 L915.0,564.9 L917.0,565.2 L919.0,565.4 L921.0,565.7 L923.0,565.9 L925.0,566.2 L927.0,566.5 L929.0,566.7 L931.0,567.0 L933.0,567.3 L935.0,567.6 L937.0,567.9 L939.0,568.1 L941.0,568.4 L943.0,568.7 L945.0,569.0 L947.0,569.3 L949.0,569.6 L951.0,569.9 L953.0,570.3 L955.0,570.6 L957.0,570.9 L959.0,571.2 L961.0,571.6 L963.0,571.9 L965.0,572.3 L967.0,572.7 L969.0,573.2 L971.0,573.6 L973.0,574.0 L975.0,574.5 L977.0,574.9 L979.0,575.4 L981.0,575.8 L983.0,576.2 L985.0,576.6 L987.0,576.9 L989.0,577.2 L991.0,577.5 L993.0,577.8 L995.0,578.1 L997.0,578.3 L999.0,578.6 L1001.0,578.8 L1003.0,579.0 L1005.0,579.2 L1007.0,579.4 L1009.0,579.6 L1011.0,579.7 L1013.0,579.9 L1015.0,580.1 L1017.0,580.3 L1019.0,580.4 L1021.0,580.6 L1023.0,580.8 L1025.0,580.9 L1027.0,581.1 L1029.0,581.3 L1031.0,581.5 L1033.0,581.7 L1035.0,581.9 L1037.0,582.2 L1039.0,582.4 L1041.0,582.7 L1043.0,582.9 L1045.0,583.2 L1047.0,583.5 L1049.0,583.8 L1051.0,584.2 L1053.0,584.6 L1055.0,585.0 L1057.0,585.5 L1059.0,586.1 L1061.0,586.7 L1063.0,587.3 L1065.0,587.9 L1067.0,588.6 L1069.0,589.4 L1071.0,590.1 L1073.0,590.9 L1075.0,591.8 L1077.0,592.6 L1079.0,593.5 L1081.0,594.3 L1083.0,595.2 L1085.0,596.1 L1087.0,597.1 L1089.0,598.0 L1091.0,598.9 L1093.0,599.9 L1095.0,600.8 L1097.0,601.7 L1099.0,602.6 L1101.0,603.6 L1103.0,604.5 L1105.0,605.3 L1107.0,606.2 L1109.0,607.1 L1111.0,607.9 L1113.0,608.8 L1115.0,609.7 L1117.0,610.7 L1119.0,611.7 L1121.0,612.7 L1123.0,613.7 L1125.0,614.7 L1127.0,615.8 L1129.0,616.8 L1131.0,617.8 L1133.0,618.9 L1135.0,619.9 L1137.0,620.9 L1139.0,621.8 L1141.0,622.7 L1143.0,623.6 L1145.0,624.5 L1147.0,625.2 L1149.0,626.0 L1151.0,626.6 L1153.0,627.2 L1155.0,627.8 L1157.0,628.2 L1159.0,628.7 L1161.0,629.1 L1163.0,629.5 L1165.0,630.0 L1167.0,630.4 L1169.0,630.8 L1171.0,631.2 L1173.0,631.6 L1175.0,632.0 L1177.0,632.4 L1179.0,632.8 L1181.0,633.1 L1183.0,633.4 L1185.0,633.8 L1187.0,634.1 L1189.0,634.4 L1191.0,634.6 L1193.0,634.9 L1195.0,635.1 L1197.0,635.3 L1199.0,635.5 L1201.0,635.6 L1203.0,635.8 L1205.0,635.9 L1207.0,635.9 L1209.0,636.0 L1211.0,636.0" stroke-width="4.4"/>
<path d="M561.0,518.8 L563.0,518.0 L565.0,517.2 L567.0,516.4 L569.0,515.5 L571.0,514.7 L573.0,513.9 L575.0,513.0 L577.0,512.2 L579.0,511.5 L581.0,510.7 L583.0,510.0 L585.0,509.4 L587.0,508.8 L589.0,508.3 L591.0,507.9 L593.0,507.6 L595.0,507.4 L597.0,507.3 L599.0,507.3 L601.0,507.4 L603.0,507.6 L605.0,507.9 L607.0,508.3 L609.0,508.9 L611.0,509.5 L613.0,510.2 L615.0,511.0 L617.0,511.8 L619.0,512.7 L621.0,513.7 L623.0,514.7 L625.0,515.7 L627.0,516.7 L629.0,517.7 L631.0,518.8 L633.0,519.8 L635.0,520.8 L637.0,521.8 L639.0,522.7 L641.0,523.7" stroke-width="4.2"/>
<path d="M621.0,522.1 L623.0,522.0 L625.0,522.0 L627.0,521.9 L629.0,521.8 L631.0,521.7 L633.0,521.5 L635.0,521.3 L637.0,521.0 L639.0,520.7 L641.0,520.3 L643.0,519.9 L645.0,519.4 L647.0,518.9 L649.0,518.3 L651.0,517.6 L653.0,516.9 L655.0,516.1 L657.0,515.3 L659.0,514.4 L661.0,513.5 L663.0,512.6 L665.0,511.6 L667.0,510.6 L669.0,509.6 L671.0,508.6 L673.0,507.6 L675.0,506.6 L677.0,505.7 L679.0,504.9 L681.0,504.1 L683.0,503.4 L685.0,502.8 L687.0,502.3 L689.0,502.0 L691.0,501.8 L693.0,501.8 L695.0,501.9 L697.0,502.2 L699.0,502.7 L701.0,503.3 L703.0,504.1 L705.0,505.1 L707.0,506.1 L709.0,507.3 L711.0,508.6 L713.0,510.0 L715.0,511.5 L717.0,513.0 L719.0,514.6 L721.0,516.2 L723.0,517.9 L725.0,519.5 L727.0,521.1 L729.0,522.7 L731.0,524.3 L733.0,525.8 L735.0,527.3 L737.0,528.7 L739.0,530.1 L741.0,531.5 L743.0,532.7 L745.0,533.9 L747.0,535.1 L749.0,536.1 L751.0,537.1 L753.0,538.1 L755.0,539.0 L757.0,539.9 L759.0,540.6 L761.0,541.4 L763.0,542.1 L765.0,542.7 L767.0,543.4 L769.0,543.9 L771.0,544.5 L773.0,545.0" stroke-width="4.2"/>
<path d="M679.0,527.4 L681.0,527.5 L683.0,527.6 L685.0,527.7 L687.0,527.7 L689.0,527.7 L691.0,527.7 L693.0,527.7 L695.0,527.6 L697.0,527.4 L699.0,527.2 L701.0,526.9 L703.0,526.6 L705.0,526.2 L707.0,525.7 L709.0,525.1 L711.0,524.4 L713.0,523.6 L715.0,522.7 L717.0,521.7 L719.0,520.6 L721.0,519.4 L723.0,518.0 L725.0,516.6 L727.0,515.1 L729.0,513.5 L731.0,511.8 L733.0,510.0 L735.0,508.2 L737.0,506.4 L739.0,504.7 L741.0,502.9 L743.0,501.2 L745.0,499.6 L747.0,498.1 L749.0,496.7 L751.0,495.5 L753.0,494.5 L755.0,493.7 L757.0,493.2 L759.0,493.0 L761.0,493.0 L763.0,493.3 L765.0,493.9 L767.0,494.8 L769.0,496.0 L771.0,497.5 L773.0,499.1 L775.0,501.0 L777.0,503.1 L779.0,505.3 L781.0,507.6 L783.0,510.0 L785.0,512.5 L787.0,515.1 L789.0,517.6 L791.0,520.1 L793.0,522.6 L795.0,525.1 L797.0,527.5 L799.0,529.8 L801.0,532.0 L803.0,534.1 L805.0,536.1 L807.0,538.0 L809.0,539.7 L811.0,541.3 L813.0,542.9 L815.0,544.3 L817.0,545.6 L819.0,546.8 L821.0,547.8 L823.0,548.8 L825.0,549.7 L827.0,550.6 L829.0,551.3 L831.0,552.0 L833.0,552.6 L835.0,553.2 L837.0,553.8 L839.0,554.3 L841.0,554.7 L843.0,555.1 L845.0,555.5 L847.0,555.9" stroke-width="4.2"/>
<path d="M729.0,535.9 L731.0,536.2 L733.0,536.5 L735.0,536.8 L737.0,537.1 L739.0,537.3 L741.0,537.6 L743.0,537.8 L745.0,538.0 L747.0,538.2 L749.0,538.4 L751.0,538.6 L753.0,538.8 L755.0,538.9 L757.0,539.0 L759.0,539.2 L761.0,539.3 L763.0,539.3 L765.0,539.4 L767.0,539.5 L769.0,539.5 L771.0,539.6 L773.0,539.6 L775.0,539.6 L777.0,539.6 L779.0,539.6 L781.0,539.7 L783.0,539.7 L785.0,539.7 L787.0,539.8 L789.0,539.8 L791.0,539.9 L793.0,540.0 L795.0,540.2 L797.0,540.3 L799.0,540.5 L801.0,540.8 L803.0,541.0 L805.0,541.3 L807.0,541.6 L809.0,542.0 L811.0,542.3 L813.0,542.8 L815.0,543.2 L817.0,543.7 L819.0,544.2 L821.0,544.7 L823.0,545.2 L825.0,545.8 L827.0,546.3 L829.0,546.9 L831.0,547.5 L833.0,548.1 L835.0,548.7 L837.0,549.3 L839.0,549.9 L841.0,550.5 L843.0,551.1 L845.0,551.6 L847.0,552.2 L849.0,552.8 L851.0,553.3 L853.0,553.8 L855.0,554.3 L857.0,554.8 L859.0,555.3 L861.0,555.8 L863.0,556.2 L865.0,556.7 L867.0,557.1 L869.0,557.5 L871.0,557.9 L873.0,558.3 L875.0,558.6 L877.0,559.0 L879.0,559.3 L881.0,559.7" stroke-width="4.2"/>
<path d="M805.0,550.1 L807.0,550.2 L809.0,550.2 L811.0,550.3 L813.0,550.2 L815.0,550.1 L817.0,550.0 L819.0,549.8 L821.0,549.5 L823.0,549.1 L825.0,548.7 L827.0,548.2 L829.0,547.6 L831.0,547.0 L833.0,546.3 L835.0,545.6 L837.0,544.8 L839.0,544.0 L841.0,543.2 L843.0,542.4 L845.0,541.6 L847.0,540.9 L849.0,540.2 L851.0,539.6 L853.0,539.1 L855.0,538.8 L857.0,538.6 L859.0,538.5 L861.0,538.7 L863.0,539.0 L865.0,539.4 L867.0,540.1 L869.0,540.9 L871.0,541.8 L873.0,542.8 L875.0,544.0 L877.0,545.2 L879.0,546.4 L881.0,547.7 L883.0,549.0 L885.0,550.3 L887.0,551.5 L889.0,552.8 L891.0,553.9 L893.0,555.1 L895.0,556.2 L897.0,557.2 L899.0,558.1 L901.0,559.0 L903.0,559.8 L905.0,560.6 L907.0,561.3 L909.0,561.9 L911.0,562.5 L913.0,563.0 L915.0,563.5 L917.0,564.0" stroke-width="4.2"/>
<path d="M865.0,558.0 L867.0,558.0 L869.0,558.1 L871.0,558.0 L873.0,557.9 L875.0,557.8 L877.0,557.6 L879.0,557.3 L881.0,557.0 L883.0,556.6 L885.0,556.1 L887.0,555.5 L889.0,554.8 L891.0,554.0 L893.0,553.1 L895.0,552.1 L897.0,551.1 L899.0,549.9 L901.0,548.7 L903.0,547.5 L905.0,546.2 L907.0,544.9 L909.0,543.6 L911.0,542.3 L913.0,541.2 L915.0,540.1 L917.0,539.2 L919.0,538.4 L921.0,537.8 L923.0,537.5 L925.0,537.4 L927.0,537.5 L929.0,537.9 L931.0,538.6 L933.0,539.4 L935.0,540.6 L937.0,541.9 L939.0,543.3 L941.0,545.0 L943.0,546.7 L945.0,548.5 L947.0,550.3 L949.0,552.2 L951.0,554.0 L953.0,555.9 L955.0,557.6 L957.0,559.3 L959.0,561.0 L961.0,562.5 L963.0,564.0 L965.0,565.4 L967.0,566.8 L969.0,568.0 L971.0,569.2 L973.0,570.3 L975.0,571.2 L977.0,572.2 L979.0,573.0 L981.0,573.8 L983.0,574.5 L985.0,575.1 L987.0,575.7 L989.0,576.2" stroke-width="4.2"/>
<path d="M909.0,563.0 L911.0,563.1 L913.0,563.1 L915.0,563.1 L917.0,563.1 L919.0,563.0 L921.0,562.8 L923.0,562.6 L925.0,562.3 L927.0,561.8 L929.0,561.3 L931.0,560.7 L933.0,560.0 L935.0,559.1 L937.0,558.1 L939.0,557.0 L941.0,555.8 L943.0,554.4 L945.0,553.0 L947.0,551.4 L949.0,549.8 L951.0,548.2 L953.0,546.5 L955.0,544.9 L957.0,543.3 L959.0,541.7 L961.0,540.4 L963.0,539.2 L965.0,538.2 L967.0,537.5 L969.0,537.0 L971.0,536.9 L973.0,537.1 L975.0,537.6 L977.0,538.5 L979.0,539.6 L981.0,541.0 L983.0,542.7 L985.0,544.5 L987.0,546.6 L989.0,548.7 L991.0,550.9 L993.0,553.1 L995.0,555.3 L997.0,557.6 L999.0,559.7 L1001.0,561.8 L1003.0,563.8 L1005.0,565.7 L1007.0,567.5 L1009.0,569.1 L1011.0,570.6 L1013.0,572.0 L1015.0,573.3 L1017.0,574.4 L1019.0,575.4 L1021.0,576.3 L1023.0,577.1 L1025.0,577.8 L1027.0,578.5 L1029.0,579.1 L1031.0,579.6 L1033.0,580.1 L1035.0,580.5 L1037.0,580.9 L1039.0,581.3" stroke-width="4.2"/>
<path d="M979.0,574.2 L981.0,574.5 L983.0,574.8 L985.0,575.0 L987.0,575.1 L989.0,575.2 L991.0,575.3 L993.0,575.2 L995.0,575.1 L997.0,574.9 L999.0,574.6 L1001.0,574.3 L1003.0,573.8 L1005.0,573.3 L1007.0,572.6 L1009.0,571.8 L1011.0,570.9 L1013.0,569.8 L1015.0,568.6 L1017.0,567.3 L1019.0,565.8 L1021.0,564.1 L1023.0,562.3 L1025.0,560.3 L1027.0,558.2 L1029.0,556.0 L1031.0,553.6 L1033.0,551.2 L1035.0,548.6 L1037.0,545.9 L1039.0,543.3 L1041.0,540.5 L1043.0,537.8 L1045.0,535.2 L1047.0,532.6 L1049.0,530.2 L1051.0,527.9 L1053.0,525.9 L1055.0,524.1 L1057.0,522.6 L1059.0,521.5 L1061.0,520.8 L1063.0,520.4 L1065.0,520.5 L1067.0,521.0 L1069.0,522.0 L1071.0,523.3 L1073.0,525.1 L1075.0,527.2 L1077.0,529.7 L1079.0,532.6 L1081.0,535.7 L1083.0,539.0 L1085.0,542.5 L1087.0,546.2 L1089.0,550.0 L1091.0,553.9 L1093.0,557.8 L1095.0,561.7 L1097.0,565.5 L1099.0,569.3 L1101.0,573.0 L1103.0,576.6 L1105.0,580.1 L1107.0,583.4 L1109.0,586.5 L1111.0,589.5 L1113.0,592.4 L1115.0,595.1 L1117.0,597.8 L1119.0,600.3 L1121.0,602.6 L1123.0,604.9 L1125.0,607.0 L1127.0,609.1 L1129.0,611.0 L1131.0,612.8 L1133.0,614.5 L1135.0,616.1 L1137.0,617.5 L1139.0,618.9 L1141.0,620.2 L1143.0,621.4 L1145.0,622.5 L1147.0,623.6 L1149.0,624.5 L1151.0,625.3 L1153.0,626.1" stroke-width="4.2"/>
<path d="M1033.0,580.6 L1035.0,580.6 L1037.0,580.6 L1039.0,580.5 L1041.0,580.4 L1043.0,580.3 L1045.0,580.1 L1047.0,579.8 L1049.0,579.4 L1051.0,579.0 L1053.0,578.4 L1055.0,577.8 L1057.0,577.0 L1059.0,576.1 L1061.0,575.0 L1063.0,573.8 L1065.0,572.3 L1067.0,570.6 L1069.0,568.6 L1071.0,566.4 L1073.0,563.8 L1075.0,561.0 L1077.0,557.9 L1079.0,554.5 L1081.0,550.9 L1083.0,546.9 L1085.0,542.7 L1087.0,538.4 L1089.0,533.8 L1091.0,529.1 L1093.0,524.4 L1095.0,519.7 L1097.0,515.0 L1099.0,510.4 L1101.0,506.1 L1103.0,502.1 L1105.0,498.5 L1107.0,495.3 L1109.0,492.7 L1111.0,490.7 L1113.0,489.4 L1115.0,488.9 L1117.0,489.3 L1119.0,490.5 L1121.0,492.5 L1123.0,495.3 L1125.0,498.9 L1127.0,503.1 L1129.0,507.9 L1131.0,513.3 L1133.0,519.0 L1135.0,525.1 L1137.0,531.5 L1139.0,538.0 L1141.0,544.6 L1143.0,551.2 L1145.0,557.6 L1147.0,564.0 L1149.0,570.1 L1151.0,576.0 L1153.0,581.6 L1155.0,586.8 L1157.0,591.7 L1159.0,596.2 L1161.0,600.5 L1163.0,604.4 L1165.0,608.0 L1167.0,611.3 L1169.0,614.3 L1171.0,617.0 L1173.0,619.4 L1175.0,621.6 L1177.0,623.5 L1179.0,625.3 L1181.0,626.8 L1183.0,628.2 L1185.0,629.4 L1187.0,630.4 L1189.0,631.3 L1191.0,632.1 L1193.0,632.8 L1195.0,633.5 L1197.0,634.0 L1199.0,634.5" stroke-width="4.2"/>
<path d="M1113.0,608.0 L1115.0,608.3 L1117.0,608.4 L1119.0,608.6 L1121.0,608.6 L1123.0,608.6 L1125.0,608.5 L1127.0,608.4 L1129.0,608.2 L1131.0,607.9 L1133.0,607.6 L1135.0,607.2 L1137.0,606.7 L1139.0,606.2 L1141.0,605.7 L1143.0,605.2 L1145.0,604.6 L1147.0,604.1 L1149.0,603.7 L1151.0,603.3 L1153.0,602.9 L1155.0,602.7 L1157.0,602.5 L1159.0,602.6 L1161.0,602.8 L1163.0,603.3 L1165.0,603.9 L1167.0,604.8 L1169.0,605.8 L1171.0,607.1 L1173.0,608.4 L1175.0,609.9 L1177.0,611.5 L1179.0,613.2 L1181.0,614.9 L1183.0,616.7 L1185.0,618.5 L1187.0,620.3 L1189.0,622.0 L1191.0,623.8 L1193.0,625.4 L1195.0,627.0 L1197.0,628.5 L1199.0,629.9 L1201.0,631.2 L1203.0,632.3 L1205.0,633.4 L1207.0,634.4 L1209.0,635.3" stroke-width="4.2"/>
<path d="M559.0,519.5 L561.0,518.7 L563.0,518.0 L565.0,517.1 L567.0,516.3 L569.0,515.5 L571.0,514.6 L573.0,513.8 L575.0,512.9 L577.0,512.1 L579.0,511.3 L581.0,510.6 L583.0,509.8 L585.0,509.2 L587.0,508.6 L589.0,508.1 L591.0,507.6 L593.0,507.3 L595.0,507.0 L597.0,506.9 L599.0,506.8 L601.0,506.9 L603.0,507.1 L605.0,507.3 L607.0,507.7 L609.0,508.2 L611.0,508.7 L613.0,509.3 L615.0,510.0 L617.0,510.7 L619.0,511.5 L621.0,512.2 L623.0,513.0 L625.0,513.8 L627.0,514.6 L629.0,515.4 L631.0,516.1 L633.0,516.8 L635.0,517.4 L637.0,517.9 L639.0,518.4 L641.0,518.7 L643.0,519.0 L645.0,518.9 L647.0,518.4 L649.0,517.8 L651.0,517.1 L653.0,516.3 L655.0,515.5 L657.0,514.7 L659.0,513.8 L661.0,512.8 L663.0,511.8 L665.0,510.8 L667.0,509.8 L669.0,508.7 L671.0,507.6 L673.0,506.5 L675.0,505.5 L677.0,504.5 L679.0,503.5 L681.0,502.6 L683.0,501.7 L685.0,500.9 L687.0,500.2 L689.0,499.6 L691.0,499.1 L693.0,498.7 L695.0,498.5 L697.0,498.3 L699.0,498.2 L701.0,498.2 L703.0,498.3 L705.0,498.5 L707.0,498.7 L709.0,498.9 L711.0,499.1 L713.0,499.3 L715.0,499.4 L717.0,499.5 L719.0,499.5 L721.0,499.4 L723.0,499.2 L725.0,498.9 L727.0,498.4 L729.0,497.9 L731.0,497.2 L733.0,496.4 L735.0,495.6 L737.0,494.6 L739.0,493.6 L741.0,492.6 L743.0,491.5 L745.0,490.4 L747.0,489.4 L749.0,488.4 L751.0,487.6 L753.0,486.9 L755.0,486.3 L757.0,485.9 L759.0,485.7 L761.0,485.8 L763.0,486.1 L765.0,486.6 L767.0,487.4 L769.0,488.5 L771.0,489.7 L773.0,491.2 L775.0,492.8 L777.0,494.7 L779.0,496.6 L781.0,498.7 L783.0,500.9 L785.0,503.1 L787.0,505.4 L789.0,507.7 L791.0,510.0 L793.0,512.2 L795.0,514.5 L797.0,516.6 L799.0,518.7 L801.0,520.7 L803.0,522.7 L805.0,524.5 L807.0,526.2 L809.0,527.7 L811.0,529.2 L813.0,530.5 L815.0,531.7 L817.0,532.7 L819.0,533.6 L821.0,534.3 L823.0,534.9 L825.0,535.4 L827.0,535.7 L829.0,535.9 L831.0,536.0 L833.0,536.0 L835.0,535.9 L837.0,535.7 L839.0,535.5 L841.0,535.2 L843.0,534.9 L845.0,534.5 L847.0,534.2 L849.0,533.9 L851.0,533.7 L853.0,533.5 L855.0,533.5 L857.0,533.5 L859.0,533.7 L861.0,534.0 L863.0,534.5 L865.0,535.1 L867.0,535.8 L869.0,536.6 L871.0,537.4 L873.0,538.4 L875.0,539.3 L877.0,540.2 L879.0,541.1 L881.0,542.0 L883.0,542.7 L885.0,543.4 L887.0,543.9 L889.0,544.3 L891.0,544.5 L893.0,544.5 L895.0,544.4 L897.0,544.1 L899.0,543.7 L901.0,543.1 L903.0,542.4 L905.0,541.5 L907.0,540.6 L909.0,539.6 L911.0,538.5 L913.0,537.4 L915.0,536.4 L917.0,535.3 L919.0,534.4 L921.0,533.5 L923.0,532.8 L925.0,532.2 L927.0,531.8 L929.0,531.4 L931.0,531.2 L933.0,531.2 L935.0,531.2 L937.0,531.2 L939.0,531.3 L941.0,531.4 L943.0,531.5 L945.0,531.6 L947.0,531.6 L949.0,531.6 L951.0,531.4 L953.0,531.3 L955.0,531.1 L957.0,530.8 L959.0,530.6 L961.0,530.4 L963.0,530.3 L965.0,530.3 L967.0,530.5 L969.0,530.8 L971.0,531.4 L973.0,532.2 L975.0,533.2 L977.0,534.4 L979.0,535.9 L981.0,537.5 L983.0,539.3 L985.0,541.3 L987.0,543.3 L989.0,545.4 L991.0,547.4 L993.0,549.5 L995.0,551.4 L997.0,553.3 L999.0,555.0 L1001.0,556.6 L1003.0,558.0 L1005.0,559.2 L1007.0,560.1 L1009.0,560.8 L1011.0,561.2 L1013.0,561.3 L1015.0,561.2 L1017.0,560.7 L1019.0,560.0 L1021.0,559.0 L1023.0,557.8 L1025.0,556.3 L1027.0,554.6 L1029.0,552.6 L1031.0,550.4 L1033.0,548.1 L1035.0,545.5 L1037.0,542.8 L1039.0,540.0 L1041.0,537.1 L1043.0,534.1 L1045.0,531.1 L1047.0,528.0 L1049.0,524.9 L1051.0,521.9 L1053.0,519.0 L1055.0,516.2 L1057.0,513.5 L1059.0,511.0 L1061.0,508.6 L1063.0,506.4 L1065.0,504.3 L1067.0,502.4 L1069.0,500.7 L1071.0,499.1 L1073.0,497.5 L1075.0,496.1 L1077.0,494.6 L1079.0,493.2 L1081.0,491.8 L1083.0,490.3 L1085.0,488.8 L1087.0,487.2 L1089.0,485.5 L1091.0,483.8 L1093.0,482.0 L1095.0,480.3 L1097.0,478.5 L1099.0,476.9 L1101.0,475.4 L1103.0,474.0 L1105.0,473.0 L1107.0,472.2 L1109.0,471.9 L1111.0,471.9 L1113.0,472.0 L1115.0,472.7 L1117.0,473.9 L1119.0,475.8 L1121.0,478.2 L1123.0,481.3 L1125.0,484.8 L1127.0,488.8 L1129.0,493.3 L1131.0,498.1 L1133.0,503.2 L1135.0,508.4 L1137.0,513.9 L1139.0,519.4 L1141.0,524.9 L1143.0,530.4 L1145.0,535.8 L1147.0,541.1 L1149.0,546.3 L1151.0,551.2 L1153.0,556.0 L1155.0,560.6 L1157.0,565.0 L1159.0,569.3 L1161.0,573.4 L1163.0,577.4 L1165.0,581.3 L1167.0,585.1 L1169.0,588.7 L1171.0,592.3 L1173.0,595.7 L1175.0,599.1 L1177.0,602.3 L1179.0,605.4 L1181.0,608.3 L1183.0,611.1 L1185.0,613.8 L1187.0,616.4 L1189.0,618.8 L1191.0,621.1 L1193.0,623.2 L1195.0,625.2 L1197.0,627.0 L1199.0,628.7 L1201.0,630.3 L1203.0,631.7 L1205.0,633.0 L1207.0,634.1 L1209.0,635.1 L1211.0,636.0" stroke-width="4.7"/>
</g>

<g fill="none" stroke="#000" stroke-width="5.4" stroke-linejoin="round" shape-rendering="crispEdges">
<path d="M851.2,472.5 V456 Q851.2,448.6 859,448.6 H1012 Q1019.6,448.6 1019.6,456 V472.5"/>
<path d="M669.1,1635 V1644 Q669.1,1651 676,1651 H845 Q851.9,1651 851.9,1644 V1635"/>
<path d="M1009.3,1715 V1724.5 Q1009.3,1731.3 1016,1731.3 H1185 Q1191.9,1731.3 1191.9,1724.5 V1715"/>
<path d="M1117.3,248 V414"/>
<path d="M1244.4,495.1 L1207,547.4"/>
<path d="M433.4,1132 L381,960"/>
</g>
<g fill="#000" shape-rendering="crispEdges">
<path d="M935.3,424 L938.6,447 H932 Z"/><rect x="932.6" y="424" width="5.4" height="22"/>
<rect x="758.2" y="1651" width="5.4" height="17.2" rx="2"/>
<rect x="1098.2" y="1731" width="5.4" height="18" rx="2"/>
<path d="M1117.3,455 L1097,389.3 L1117.3,410 L1138,389.3 Z"/>
<path d="M1187.1,575.3 L1209.3,510.5 L1212.5,540 L1241.6,534.1 Z"/>
<path d="M367.5,916 L368,986.5 L380,958 L406.4,974.4 Z"/>
</g>

<g id="labels">
<text x="301" y="1864.5" text-anchor="end" font-size="66.7">0</text>
<text x="301" y="1566.5" text-anchor="end" font-size="66.7">5,000</text>
<text x="301" y="1268.6" text-anchor="end" font-size="66.7">10,000</text>
<text x="301" y="970.6" text-anchor="end" font-size="66.7">15,000</text>
<text x="301" y="672.7" text-anchor="end" font-size="66.7">20,000</text>
<text x="301" y="374.8" text-anchor="end" font-size="66.7">25,000</text>
<text x="301" y="76.8" text-anchor="end" font-size="66.7">30,000</text>
<text x="514.0" y="1960.8" text-anchor="middle" font-size="80">734</text>
<text x="777.0" y="1960.8" text-anchor="middle" font-size="80">724</text>
<text x="1040.5" y="1960.8" text-anchor="middle" font-size="80">714</text>
<text x="1304.0" y="1960.8" text-anchor="middle" font-size="80">704</text>

<text x="831.6" y="2053.7" text-anchor="middle" font-size="79.5" font-weight="bold">Binding Energy (eV)</text>
<text transform="translate(84.6 996) rotate(-90)" text-anchor="middle" font-size="80" font-weight="bold">Intensity (c.p.s.)</text>
<text x="381" y="117.6" font-size="80" font-weight="bold">Fe 2p</text>
<text x="416" y="399.5" font-size="80">4</text>
<text x="416" y="608.4" font-size="80">3</text>
<text x="414" y="807.4" font-size="80">2</text>
<text x="418" y="1503.7" font-size="80">1</text>
<text x="787" y="392" font-size="65.8">multiplets</text>
<text font-size="80"><tspan x="961" y="246.5">Fe</tspan><tspan x="1039.5" y="221" font-size="52">3</tspan><tspan x="1065.3" y="223.8" font-size="60">+</tspan> <tspan x="1108.2" y="248.6" font-size="89">+</tspan> <tspan x="1175" y="246.5">Fe</tspan><tspan x="1253.5" y="221" font-size="52">2</tspan><tspan x="1279.2" y="223.8" font-size="60">+</tspan></text>
<text font-size="80"><tspan x="1182" y="473.8">Fe</tspan><tspan x="1262" y="448.8" font-size="52">2</tspan><tspan x="1288.4" y="451.2" font-size="60">+</tspan></text>
<text x="365" y="1211.7" font-size="80">O KLL</text>
<text x="653" y="1750.6" font-size="80">Fe 2p<tspan dx="1.5" dy="18.8" font-size="52">1/2</tspan></text>
<text x="1003" y="1803.8" font-size="80">Fe 2p<tspan dx="1.5" dy="18.5" font-size="52">3/2</tspan></text>

</g>
</svg>
</body></html>
